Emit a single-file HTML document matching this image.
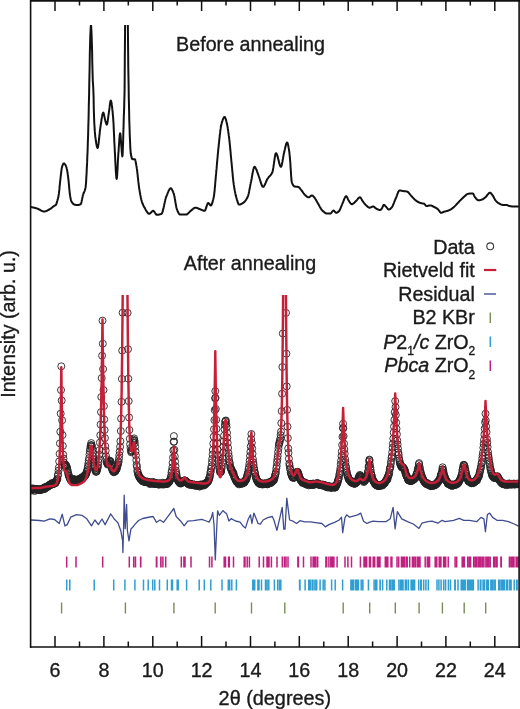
<!DOCTYPE html>
<html><head><meta charset="utf-8"><style>
html,body{margin:0;padding:0;background:#fff;}
svg{display:block;will-change:transform;}
text{font-family:"Liberation Sans",sans-serif;font-size:19.7px;fill:#1a1a1a;stroke:#1a1a1a;stroke-width:0.35px;}
</style></head><body>
<svg width="520" height="709" viewBox="0 0 520 709">
<defs>
<clipPath id="ct"><rect x="31" y="25" width="488" height="200"/></clipPath>
<clipPath id="cb"><rect x="31" y="295" width="488" height="220"/></clipPath>
</defs>
<path d="M30.6,207 L30.9,207 L31.1,207.1 L31.4,207.1 L31.6,207.2 L31.9,207.2 L32.1,207.3 L32.4,207.3 L32.6,207.4 L32.9,207.4 L33.1,207.5 L33.4,207.5 L33.6,207.6 L33.9,207.6 L34.1,207.7 L34.4,207.8 L34.6,207.8 L34.9,207.9 L35.1,208 L35.4,208 L35.6,208.1 L35.9,208.2 L36.1,208.2 L36.4,208.3 L36.6,208.4 L36.9,208.5 L37.1,208.5 L37.4,208.6 L37.6,208.7 L37.9,208.8 L38.1,208.9 L38.4,209 L38.6,209.2 L38.9,209.3 L39.1,209.4 L39.4,209.6 L39.6,209.7 L39.9,209.8 L40.1,210 L40.4,210.1 L40.6,210.3 L40.9,210.4 L41.1,210.5 L41.4,210.7 L41.6,210.8 L41.9,210.9 L42.1,211 L42.4,211.1 L42.6,211.2 L42.9,211.3 L43.1,211.4 L43.4,211.4 L43.6,211.5 L43.9,211.5 L44.1,211.5 L44.4,211.5 L44.6,211.5 L44.9,211.4 L45.1,211.4 L45.4,211.3 L45.6,211.3 L45.9,211.2 L46.1,211.1 L46.4,211 L46.6,210.9 L46.9,210.8 L47.1,210.7 L47.4,210.5 L47.6,210.4 L47.9,210.2 L48.1,210.1 L48.4,210 L48.6,209.8 L48.9,209.7 L49.1,209.5 L49.4,209.4 L49.6,209.2 L49.9,209.1 L50.1,208.9 L50.4,208.8 L50.6,208.6 L50.9,208.5 L51.1,208.3 L51.4,208.1 L51.6,207.9 L51.9,207.7 L52.1,207.5 L52.4,207.3 L52.6,207.1 L52.9,206.9 L53.1,206.7 L53.4,206.5 L53.6,206.3 L53.9,206.1 L54.1,205.9 L54.4,205.8 L54.6,205.7 L54.9,205.5 L55.1,205.4 L55.4,205.3 L55.6,205.1 L55.9,204.9 L56.1,204.6 L56.4,204 L56.6,203.3 L56.9,202.4 L57.1,201.5 L57.4,200.5 L57.6,199.6 L57.9,198.8 L58.1,197.8 L58.4,196.8 L58.6,195.4 L58.9,193.7 L59.1,191.6 L59.4,189.2 L59.6,186.7 L59.9,184.1 L60.1,181.6 L60.4,179.3 L60.6,177.2 L60.9,175 L61.1,172.9 L61.4,170.8 L61.6,169 L61.9,167.6 L62.1,166.7 L62.4,165.9 L62.6,165.2 L62.9,164.6 L63.1,164.1 L63.4,163.7 L63.6,163.5 L63.9,163.4 L64.1,163.5 L64.3,163.6 L64.6,163.8 L64.8,164.1 L65.1,164.4 L65.3,164.8 L65.6,165.2 L65.8,165.6 L66.1,166.3 L66.3,167 L66.6,167.9 L66.8,168.8 L67.1,169.9 L67.3,171.3 L67.6,173 L67.8,174.8 L68.1,176.7 L68.3,178.8 L68.6,180.9 L68.8,183.4 L69.1,186.2 L69.3,189 L69.6,191.7 L69.8,194 L70.1,195.6 L70.3,197 L70.6,198.3 L70.8,199.5 L71.1,200.4 L71.3,201.2 L71.6,201.7 L71.8,202.1 L72.1,202.5 L72.3,202.9 L72.6,203.2 L72.8,203.5 L73.1,203.8 L73.3,204 L73.6,204.2 L73.8,204.4 L74.1,204.5 L74.3,204.6 L74.6,204.7 L74.8,204.7 L75.1,204.8 L75.3,204.8 L75.6,204.8 L75.8,204.9 L76.1,204.9 L76.3,204.9 L76.6,204.9 L76.8,205 L77.1,205 L77.3,205 L77.6,205 L77.8,205 L78.1,205 L78.3,205 L78.6,205 L78.8,204.9 L79.1,204.8 L79.3,204.8 L79.6,204.7 L79.8,204.5 L80.1,204.4 L80.3,204.3 L80.6,204.1 L80.8,204 L81.1,203.5 L81.3,202.7 L81.6,201.7 L81.8,200.5 L82.1,199.2 L82.3,197.9 L82.6,196.7 L82.8,195.6 L83.1,194.7 L83.3,193.9 L83.6,193.3 L83.8,192.8 L84.1,192.2 L84.3,191.7 L84.6,191.1 L84.8,190.4 L85.1,189.6 L85.3,188.6 L85.6,187.4 L85.8,185.4 L86.1,182.1 L86.3,177.9 L86.6,173.1 L86.8,168.1 L87.1,162.9 L87.3,157.1 L87.6,150.7 L87.8,143.5 L88.1,135.7 L88.3,127.1 L88.6,117.1 L88.8,106.1 L89.1,94.6 L89.3,82.5 L89.6,68.4 L89.8,54.4 L90.1,43.2 L90.3,36 L90.6,29.8 L90.8,25.8 L91.1,25.4 L91.3,28.9 L91.6,34.8 L91.8,41.4 L92.1,50.9 L92.3,62.7 L92.6,73.7 L92.8,81.1 L93.1,85 L93.3,88.9 L93.6,97.1 L93.8,109 L94.1,118.2 L94.3,123.3 L94.6,127.7 L94.8,131.4 L95.1,134.4 L95.3,136.8 L95.6,138.7 L95.8,140.5 L96.1,142.2 L96.3,143.8 L96.6,145.1 L96.8,146.3 L97.1,147.1 L97.3,147.7 L97.6,147.9 L97.8,147.6 L98.1,146.7 L98.3,145.2 L98.6,143.4 L98.8,141.3 L99.1,139 L99.3,136.6 L99.6,134.1 L99.8,131.7 L100.1,129.6 L100.3,127.7 L100.6,126.1 L100.8,124.5 L101.1,122.8 L101.3,121.1 L101.6,119.5 L101.8,117.9 L102.1,116.4 L102.3,115.1 L102.6,114 L102.8,113.2 L103.1,112.7 L103.3,112.6 L103.6,113 L103.8,113.7 L104.1,114.7 L104.3,116 L104.6,117.3 L104.8,118.6 L105.1,119.9 L105.3,120.8 L105.6,121.7 L105.8,122.5 L106.1,123.3 L106.3,124 L106.6,124.5 L106.8,124.6 L107.1,124.2 L107.3,123.2 L107.6,121.8 L107.8,120.2 L108.1,118.3 L108.3,116.4 L108.6,114.6 L108.8,112.9 L109.1,111.3 L109.3,109.3 L109.6,107.2 L109.8,105.2 L110.1,103.3 L110.3,101.8 L110.6,100.9 L110.8,100.6 L111.1,101 L111.3,101.9 L111.6,103.2 L111.8,104.9 L112.1,106.9 L112.3,109.2 L112.6,111.7 L112.8,114.3 L113.1,117.1 L113.3,120.2 L113.6,124.7 L113.8,130.1 L114.1,135.9 L114.3,141.5 L114.6,146.5 L114.8,151.2 L115.1,156.3 L115.3,161.5 L115.6,166.4 L115.8,171 L116.1,174.7 L116.3,177.5 L116.6,178.9 L116.8,178.6 L117.1,176.4 L117.3,172.7 L117.6,168 L117.8,163 L118.1,158.2 L118.3,154.2 L118.6,150.8 L118.8,147 L119.1,143.3 L119.3,139.7 L119.6,136.7 L119.8,134.4 L120.1,133.2 L120.3,133.5 L120.6,135.6 L120.8,138.9 L121.1,142.6 L121.3,146 L121.6,148.9 L121.8,152.1 L122.1,154.9 L122.3,156.4 L122.6,155 L122.8,150.2 L123.1,142.7 L123.3,134 L123.6,124.9 L123.8,116.7 L124.1,109.8 L124.3,101.8 L124.6,90 L124.8,61.1 L125.1,25.7 L125.3,7.9 L125.6,5 L125.8,5 L126.1,5 L126.3,5 L126.6,5 L126.8,5 L127.1,5 L127.3,5 L127.6,7.7 L127.8,19.3 L128.1,49.1 L128.3,68.7 L128.6,84.4 L128.8,97.9 L129.1,110.2 L129.3,120.8 L129.6,129.5 L129.8,136.3 L130.1,142.5 L130.3,147.7 L130.6,151.6 L130.8,153.8 L131.1,155.2 L131.3,156.4 L131.6,157.4 L131.8,158.3 L132.1,158.8 L132.3,159.1 L132.6,159.2 L132.8,159.2 L133.1,159.2 L133.3,159.2 L133.6,159.2 L133.8,159.2 L134.1,159.2 L134.3,159.2 L134.6,159.2 L134.8,159.2 L135.1,159.5 L135.3,160.3 L135.6,161.3 L135.8,162.6 L136.1,164 L136.3,165.4 L136.6,166.8 L136.8,168.4 L137.1,170.2 L137.3,172.3 L137.6,174.5 L137.8,176.8 L138.1,179.1 L138.3,181.4 L138.6,183.6 L138.8,185.6 L139.1,187.5 L139.3,189.1 L139.6,190.6 L139.8,192.1 L140.1,193.5 L140.3,194.9 L140.6,196.2 L140.8,197.4 L141.1,198.6 L141.3,199.7 L141.6,200.6 L141.8,201.5 L142.1,202.3 L142.3,203 L142.6,203.7 L142.8,204.3 L143.1,204.8 L143.3,205.4 L143.6,205.9 L143.8,206.4 L144.1,206.8 L144.3,207.3 L144.6,207.7 L144.8,208.1 L145.1,208.6 L145.3,209 L145.6,209.5 L145.8,209.9 L146.1,210.4 L146.3,210.8 L146.6,211.2 L146.8,211.6 L147.1,212 L147.3,212.4 L147.6,212.7 L147.8,213 L148.1,213.3 L148.3,213.5 L148.6,213.6 L148.8,213.7 L149.1,213.8 L149.3,213.8 L149.6,213.7 L149.8,213.6 L150.1,213.4 L150.3,213.2 L150.6,213 L150.8,212.7 L151.1,212.4 L151.3,212.1 L151.6,211.9 L151.8,211.6 L152.1,211.4 L152.3,211.1 L152.6,211 L152.8,210.9 L153.1,210.8 L153.3,210.8 L153.6,210.9 L153.8,211.1 L154.1,211.4 L154.3,211.7 L154.6,212.1 L154.8,212.5 L155.1,212.9 L155.3,213.3 L155.6,213.7 L155.8,214 L156.1,214.3 L156.3,214.6 L156.6,214.7 L156.8,214.8 L157.1,214.8 L157.3,214.8 L157.6,214.8 L157.8,214.8 L158.1,214.7 L158.3,214.7 L158.6,214.7 L158.8,214.6 L159.1,214.6 L159.3,214.5 L159.6,214.4 L159.8,214.4 L160.1,214.3 L160.3,214.2 L160.6,214.1 L160.8,214.1 L161.1,214 L161.3,213.9 L161.6,213.7 L161.8,213.5 L162.1,213 L162.3,212.4 L162.6,211.7 L162.8,210.8 L163.1,209.9 L163.3,208.8 L163.6,207.7 L163.8,206.6 L164.1,205.4 L164.3,204.2 L164.6,203 L164.8,201.9 L165.1,200.7 L165.3,199.7 L165.6,198.8 L165.8,197.9 L166.1,197.2 L166.3,196.5 L166.6,195.9 L166.8,195.3 L167.1,194.6 L167.3,194 L167.6,193.3 L167.8,192.7 L168.1,192.1 L168.3,191.5 L168.6,191 L168.8,190.5 L169.1,190 L169.3,189.6 L169.6,189.2 L169.8,188.9 L170.1,188.6 L170.3,188.4 L170.6,188.3 L170.8,188.3 L171.1,188.4 L171.3,188.6 L171.6,188.8 L171.8,189.2 L172.1,189.7 L172.3,190.2 L172.6,190.7 L172.8,191.3 L173.1,191.9 L173.3,192.6 L173.6,193.3 L173.8,193.9 L174.1,194.8 L174.3,195.9 L174.6,197.1 L174.8,198.5 L175.1,200 L175.3,201.5 L175.6,203.1 L175.8,204.6 L176.1,205.9 L176.3,207.2 L176.6,208.2 L176.8,209.1 L177.1,209.7 L177.3,210.3 L177.6,211 L177.8,211.6 L178.1,212.1 L178.3,212.6 L178.6,213.1 L178.8,213.5 L179.1,213.9 L179.3,214.2 L179.6,214.4 L179.8,214.5 L180.1,214.5 L180.3,214.5 L180.6,214.5 L180.8,214.5 L181.1,214.5 L181.3,214.5 L181.6,214.5 L181.8,214.5 L182.1,214.5 L182.3,214.5 L182.6,214.5 L182.8,214.5 L183.1,214.5 L183.3,214.5 L183.6,214.5 L183.8,214.5 L184.1,214.5 L184.3,214.5 L184.6,214.5 L184.8,214.5 L185.1,214.5 L185.3,214.5 L185.6,214.5 L185.8,214.5 L186.1,214.5 L186.3,214.5 L186.6,214.4 L186.8,214.4 L187.1,214.2 L187.3,214.1 L187.6,213.9 L187.8,213.7 L188.1,213.5 L188.3,213.2 L188.6,213 L188.8,212.7 L189.1,212.4 L189.3,212.2 L189.6,211.9 L189.8,211.6 L190.1,211.4 L190.3,211.2 L190.6,211 L190.8,210.8 L191.1,210.6 L191.3,210.4 L191.6,210.2 L191.8,209.9 L192.1,209.7 L192.3,209.5 L192.6,209.3 L192.8,209 L193.1,208.8 L193.3,208.6 L193.6,208.4 L193.8,208.3 L194.1,208.1 L194.3,208 L194.6,207.9 L194.8,207.8 L195.1,207.7 L195.3,207.7 L195.6,207.7 L195.8,207.7 L196.1,207.8 L196.3,207.8 L196.6,207.9 L196.8,207.9 L197.1,208 L197.3,208.1 L197.6,208.2 L197.8,208.3 L198.1,208.4 L198.3,208.5 L198.6,208.6 L198.8,208.7 L199.1,208.9 L199.3,209 L199.6,209.1 L199.8,209.1 L200.1,209.2 L200.3,209.3 L200.6,209.4 L200.8,209.5 L201.1,209.6 L201.3,209.8 L201.6,209.9 L201.8,210 L202.1,210.1 L202.3,210.2 L202.6,210.3 L202.8,210.4 L203.1,210.5 L203.3,210.6 L203.6,210.7 L203.8,210.7 L204.1,210.8 L204.3,210.8 L204.6,210.8 L204.8,210.7 L205.1,210.4 L205.3,210 L205.6,209.4 L205.8,208.7 L206.1,208 L206.3,207.2 L206.6,206.4 L206.8,205.7 L207.1,204.9 L207.3,204.3 L207.6,203.7 L207.8,203.3 L208.1,203.1 L208.3,203 L208.6,203.1 L208.8,203.3 L209.1,203.6 L209.3,204 L209.6,204.3 L209.8,204.7 L210.1,205 L210.3,205.3 L210.6,205.5 L210.8,205.5 L211.1,205.4 L211.3,205.1 L211.6,204.7 L211.8,204.2 L212.1,203.5 L212.3,202.8 L212.6,201.9 L212.8,201 L213.1,200 L213.3,198.9 L213.6,197.8 L213.8,196.7 L214.1,195.1 L214.3,193.1 L214.6,190.8 L214.8,188.1 L215.1,185.3 L215.3,182.3 L215.6,179.4 L215.8,176.6 L216.1,173.9 L216.3,171.2 L216.6,168.4 L216.8,165.6 L217.1,162.7 L217.3,159.8 L217.6,157 L217.8,154.3 L218.1,151.6 L218.3,149.1 L218.6,146.8 L218.8,144.4 L219.1,142 L219.3,139.7 L219.6,137.3 L219.8,135 L220.1,132.9 L220.3,130.8 L220.6,128.9 L220.8,127.3 L221.1,125.8 L221.3,124.6 L221.6,123.6 L221.8,122.8 L222.1,121.9 L222.3,121.1 L222.6,120.3 L222.8,119.6 L223.1,118.9 L223.3,118.4 L223.6,117.9 L223.8,117.5 L224.1,117.2 L224.3,117 L224.6,116.9 L224.8,117 L225.1,117.4 L225.3,117.9 L225.6,118.6 L225.8,119.4 L226.1,120.3 L226.3,121.3 L226.6,122.3 L226.8,123.4 L227.1,124.4 L227.3,125.6 L227.6,127 L227.8,128.5 L228.1,130.2 L228.3,131.9 L228.6,133.8 L228.8,135.7 L229.1,137.7 L229.3,139.7 L229.6,142 L229.8,144.4 L230.1,147 L230.3,149.7 L230.6,152.4 L230.8,155.1 L231.1,157.8 L231.3,160.5 L231.6,163 L231.8,165.6 L232.1,168.3 L232.3,171 L232.6,173.7 L232.8,176.3 L233.1,178.8 L233.3,181.1 L233.6,183.2 L233.8,184.9 L234.1,186.5 L234.3,188.1 L234.6,189.5 L234.8,190.9 L235.1,192.2 L235.3,193.4 L235.6,194.5 L235.8,195.6 L236.1,196.6 L236.3,197.5 L236.6,198.3 L236.8,199.2 L237.1,200.1 L237.3,200.9 L237.6,201.8 L237.8,202.5 L238.1,203.2 L238.3,203.8 L238.6,204.2 L238.8,204.5 L239.1,204.6 L239.3,204.6 L239.6,204.6 L239.8,204.5 L240.1,204.5 L240.3,204.4 L240.6,204.3 L240.8,204.2 L241.1,204.1 L241.3,204 L241.6,203.8 L241.8,203.7 L242.1,203.5 L242.3,203.4 L242.6,203.2 L242.8,203.1 L243.1,202.9 L243.3,202.8 L243.6,202.6 L243.8,202.4 L244.1,202.2 L244.3,201.9 L244.6,201.7 L244.8,201.4 L245.1,201.1 L245.3,200.8 L245.6,200.5 L245.8,200.1 L246.1,199.8 L246.3,199.4 L246.6,199 L246.8,198.5 L247.1,198.1 L247.3,197.6 L247.6,197.1 L247.8,196.6 L248.1,195.8 L248.3,195 L248.6,194 L248.8,192.9 L249.1,191.7 L249.3,190.4 L249.6,189.1 L249.8,187.8 L250.1,186.5 L250.3,185.1 L250.6,183.9 L250.8,182.7 L251.1,181.5 L251.3,180.3 L251.6,179 L251.8,177.6 L252.1,176.1 L252.3,174.7 L252.6,173.3 L252.8,171.9 L253.1,170.7 L253.3,169.5 L253.6,168.5 L253.8,167.7 L254.1,167.2 L254.3,166.9 L254.6,166.8 L254.8,166.9 L255.1,167.1 L255.3,167.5 L255.6,167.9 L255.8,168.4 L256.1,168.9 L256.4,169.5 L256.6,170.2 L256.9,170.9 L257.1,171.6 L257.4,172.3 L257.6,173 L257.9,173.7 L258.1,174.4 L258.4,175 L258.6,175.6 L258.9,176.3 L259.1,177 L259.4,177.8 L259.6,178.6 L259.9,179.4 L260.1,180.2 L260.4,181.1 L260.6,181.9 L260.9,182.7 L261.1,183.5 L261.4,184.2 L261.6,184.9 L261.9,185.5 L262.1,185.9 L262.4,186.3 L262.6,186.6 L262.9,186.8 L263.1,186.8 L263.4,186.7 L263.6,186.5 L263.9,186.3 L264.1,186 L264.4,185.6 L264.6,185.1 L264.9,184.6 L265.1,184.1 L265.4,183.5 L265.6,183 L265.9,182.4 L266.1,181.8 L266.4,181.2 L266.6,180.6 L266.9,180.1 L267.1,179.6 L267.4,179.1 L267.6,178.7 L267.9,178.3 L268.1,177.9 L268.4,177.6 L268.6,177.3 L268.9,177 L269.1,176.7 L269.4,176.5 L269.6,176.2 L269.9,175.9 L270.1,175.7 L270.4,175.4 L270.6,175.1 L270.9,174.8 L271.1,174.4 L271.4,174.1 L271.6,173.6 L271.9,173.2 L272.1,172.7 L272.4,172.2 L272.6,171.4 L272.9,170.3 L273.1,168.9 L273.4,167.4 L273.6,165.7 L273.9,163.9 L274.1,162.1 L274.4,160.3 L274.6,158.6 L274.9,157.1 L275.1,155.7 L275.4,154.6 L275.6,153.7 L275.9,153.3 L276.1,153.2 L276.4,153.4 L276.6,153.8 L276.9,154.3 L277.1,154.9 L277.4,155.7 L277.6,156.6 L277.9,157.6 L278.1,158.6 L278.4,159.6 L278.6,160.6 L278.9,161.7 L279.1,162.6 L279.4,163.6 L279.6,164.4 L279.9,165.2 L280.1,165.8 L280.4,166.3 L280.6,166.7 L280.9,166.8 L281.1,166.7 L281.4,166.2 L281.6,165.5 L281.9,164.5 L282.1,163.3 L282.4,162 L282.6,160.5 L282.9,159 L283.1,157.6 L283.4,156.1 L283.6,154.8 L283.9,153.6 L284.1,152.6 L284.4,151.6 L284.6,150.5 L284.9,149.3 L285.1,148.2 L285.4,147.1 L285.6,146.1 L285.9,145.1 L286.1,144.2 L286.4,143.5 L286.6,143 L286.9,142.6 L287.1,142.5 L287.4,142.7 L287.6,143.2 L287.9,144.1 L288.1,145.1 L288.4,146.3 L288.6,147.7 L288.9,149.1 L289.1,150.6 L289.4,152.6 L289.6,155 L289.9,157.6 L290.1,160.3 L290.4,163.7 L290.6,167.6 L290.9,171.7 L291.1,175.5 L291.4,178.9 L291.6,181.3 L291.9,182.4 L292.1,183.1 L292.4,183.7 L292.6,184.3 L292.9,184.7 L293.1,185.2 L293.4,185.5 L293.6,185.8 L293.9,186.1 L294.1,186.3 L294.4,186.4 L294.6,186.5 L294.9,186.5 L295.1,186.6 L295.4,186.6 L295.6,186.6 L295.9,186.7 L296.1,186.7 L296.4,186.7 L296.6,186.7 L296.9,186.7 L297.1,186.8 L297.4,186.8 L297.6,186.8 L297.9,186.9 L298.1,186.9 L298.4,187 L298.6,187.1 L298.9,187.3 L299.1,187.5 L299.4,187.7 L299.6,188 L299.9,188.3 L300.1,188.6 L300.4,188.9 L300.6,189.3 L300.9,189.6 L301.1,189.9 L301.4,190.2 L301.6,190.5 L301.9,190.8 L302.1,191.2 L302.4,191.5 L302.6,191.9 L302.9,192.2 L303.1,192.6 L303.4,193 L303.6,193.3 L303.9,193.7 L304.1,194 L304.4,194.3 L304.6,194.6 L304.9,194.9 L305.1,195.1 L305.4,195.3 L305.6,195.5 L305.9,195.8 L306.1,196 L306.4,196.2 L306.6,196.4 L306.9,196.6 L307.1,196.8 L307.4,196.9 L307.6,197.1 L307.9,197.2 L308.1,197.3 L308.4,197.3 L308.6,197.3 L308.9,197.2 L309.1,197.2 L309.4,197 L309.6,196.9 L309.9,196.7 L310.1,196.5 L310.4,196.3 L310.6,196.1 L310.9,195.9 L311.1,195.8 L311.4,195.6 L311.6,195.5 L311.9,195.5 L312.1,195.5 L312.4,195.6 L312.6,195.7 L312.9,195.9 L313.1,196.1 L313.4,196.4 L313.6,196.7 L313.9,196.9 L314.1,197.2 L314.4,197.5 L314.6,197.8 L314.9,198.1 L315.1,198.5 L315.4,198.9 L315.6,199.3 L315.9,199.7 L316.1,200.2 L316.4,200.6 L316.6,201.1 L316.9,201.5 L317.1,202 L317.4,202.4 L317.6,202.8 L317.9,203.2 L318.1,203.7 L318.4,204.1 L318.6,204.6 L318.9,205 L319.1,205.5 L319.4,206 L319.6,206.4 L319.9,206.9 L320.1,207.3 L320.4,207.8 L320.6,208.2 L320.9,208.6 L321.1,209 L321.4,209.4 L321.6,209.7 L321.9,210 L322.1,210.3 L322.4,210.5 L322.6,210.8 L322.9,211 L323.1,211.2 L323.4,211.5 L323.6,211.7 L323.9,211.9 L324.1,212.1 L324.4,212.3 L324.6,212.5 L324.9,212.7 L325.1,212.9 L325.4,213 L325.6,213.2 L325.9,213.3 L326.1,213.4 L326.4,213.4 L326.6,213.5 L326.9,213.5 L327.1,213.5 L327.4,213.5 L327.6,213.5 L327.9,213.5 L328.1,213.5 L328.4,213.5 L328.6,213.5 L328.9,213.5 L329.1,213.5 L329.4,213.5 L329.6,213.5 L329.9,213.5 L330.1,213.5 L330.4,213.5 L330.6,213.5 L330.9,213.3 L331.1,213.1 L331.4,212.8 L331.6,212.4 L331.9,212.1 L332.1,211.7 L332.4,211.3 L332.6,211 L332.9,210.8 L333.1,210.6 L333.4,210.5 L333.6,210.5 L333.9,210.7 L334.1,210.9 L334.4,211.1 L334.6,211.4 L334.9,211.7 L335.1,212 L335.4,212.3 L335.6,212.5 L335.9,212.7 L336.1,212.8 L336.4,212.8 L336.6,212.8 L336.9,212.7 L337.1,212.6 L337.4,212.4 L337.6,212.3 L337.9,212.1 L338.1,211.9 L338.4,211.7 L338.6,211.5 L338.9,211.2 L339.1,211 L339.4,210.7 L339.6,210.2 L339.9,209.8 L340.1,209.2 L340.4,208.7 L340.6,208.1 L340.9,207.4 L341.1,206.8 L341.4,206.1 L341.6,205.5 L341.9,204.8 L342.1,204.2 L342.4,203.6 L342.6,203.1 L342.9,202.6 L343.1,202 L343.4,201.3 L343.6,200.7 L343.9,200 L344.1,199.4 L344.4,198.7 L344.6,198.2 L344.9,197.6 L345.1,197.1 L345.4,196.8 L345.6,196.5 L345.9,196.3 L346.1,196.2 L346.4,196.3 L346.6,196.5 L346.9,196.9 L347.1,197.3 L347.4,197.8 L347.6,198.4 L347.9,198.9 L348.1,199.5 L348.4,200 L348.6,200.5 L348.9,200.9 L349.1,201.2 L349.4,201.6 L349.6,202 L349.9,202.4 L350.1,202.7 L350.4,203.1 L350.6,203.4 L350.9,203.7 L351.1,203.9 L351.4,204.1 L351.6,204.2 L351.9,204.2 L352.1,204.2 L352.4,204.1 L352.6,204 L352.9,203.9 L353.1,203.7 L353.4,203.5 L353.6,203.3 L353.9,203.1 L354.1,202.8 L354.4,202.6 L354.6,202.3 L354.9,202.1 L355.1,201.8 L355.4,201.6 L355.6,201.4 L355.9,201.2 L356.1,200.9 L356.4,200.7 L356.6,200.4 L356.9,200.1 L357.1,199.8 L357.4,199.4 L357.6,199.1 L357.9,198.8 L358.1,198.5 L358.4,198.2 L358.6,198 L358.9,197.8 L359.1,197.6 L359.4,197.4 L359.6,197.3 L359.9,197.3 L360.1,197.3 L360.4,197.5 L360.6,197.7 L360.9,198.1 L361.1,198.5 L361.4,198.9 L361.6,199.3 L361.9,199.8 L362.1,200.3 L362.4,200.7 L362.6,201.1 L362.9,201.4 L363.1,201.7 L363.4,202.1 L363.6,202.4 L363.9,202.7 L364.1,203 L364.4,203.4 L364.6,203.7 L364.9,204 L365.1,204.3 L365.4,204.6 L365.6,204.8 L365.9,205.1 L366.1,205.3 L366.4,205.5 L366.6,205.8 L366.9,206 L367.1,206.2 L367.4,206.4 L367.6,206.7 L367.9,206.9 L368.1,207.1 L368.4,207.2 L368.6,207.4 L368.9,207.5 L369.1,207.6 L369.4,207.7 L369.6,207.7 L369.9,207.7 L370.1,207.6 L370.4,207.6 L370.6,207.5 L370.9,207.4 L371.1,207.2 L371.4,207.1 L371.6,207 L371.9,206.8 L372.1,206.7 L372.4,206.6 L372.6,206.6 L372.9,206.5 L373.1,206.5 L373.4,206.5 L373.6,206.6 L373.9,206.7 L374.1,206.9 L374.4,207.1 L374.6,207.3 L374.9,207.5 L375.1,207.7 L375.4,208 L375.6,208.2 L375.9,208.4 L376.1,208.6 L376.4,208.7 L376.6,208.8 L376.9,209 L377.1,209.1 L377.4,209.2 L377.6,209.3 L377.9,209.4 L378.1,209.5 L378.4,209.6 L378.6,209.7 L378.9,209.8 L379.1,209.9 L379.4,209.9 L379.6,210 L379.9,210 L380.1,210 L380.4,209.9 L380.6,209.8 L380.9,209.6 L381.1,209.3 L381.4,209.1 L381.6,208.8 L381.9,208.5 L382.1,208 L382.4,207.5 L382.6,206.9 L382.9,206.3 L383.1,205.8 L383.4,205.4 L383.6,205 L383.9,204.9 L384.1,204.9 L384.4,205.1 L384.6,205.2 L384.9,205.5 L385.1,205.8 L385.4,206 L385.6,206.3 L385.9,206.5 L386.1,206.8 L386.4,207.1 L386.6,207.4 L386.9,207.7 L387.1,208.1 L387.4,208.4 L387.6,208.7 L387.9,209 L388.1,209.2 L388.4,209.4 L388.6,209.5 L388.9,209.5 L389.1,209.5 L389.4,209.4 L389.6,209.3 L389.9,209.1 L390.1,209 L390.4,208.8 L390.6,208.6 L390.9,208.3 L391.1,208.1 L391.4,207.8 L391.6,207.6 L391.9,207.3 L392.1,206.9 L392.4,206.5 L392.6,206 L392.9,205.5 L393.1,204.9 L393.4,204.3 L393.6,203.7 L393.9,203.1 L394.1,202.4 L394.4,201.8 L394.6,201.1 L394.9,200.5 L395.1,199.9 L395.4,199.3 L395.6,198.7 L395.9,198.2 L396.1,197.6 L396.4,196.9 L396.6,196.3 L396.9,195.6 L397.1,194.9 L397.4,194.2 L397.6,193.5 L397.9,192.9 L398.1,192.3 L398.4,191.8 L398.6,191.3 L398.9,190.9 L399.1,190.6 L399.4,190.5 L399.6,190.4 L399.9,190.4 L400.1,190.4 L400.4,190.5 L400.6,190.5 L400.9,190.6 L401.1,190.6 L401.4,190.7 L401.6,190.8 L401.9,190.8 L402.1,190.9 L402.4,191 L402.6,191 L402.9,191.1 L403.1,191.1 L403.4,191.1 L403.6,191.2 L403.9,191.2 L404.1,191.2 L404.4,191.2 L404.6,191.2 L404.9,191.3 L405.1,191.3 L405.4,191.3 L405.6,191.3 L405.9,191.4 L406.1,191.4 L406.4,191.4 L406.6,191.4 L406.9,191.5 L407.1,191.6 L407.4,191.7 L407.6,191.8 L407.9,192 L408.1,192.2 L408.4,192.4 L408.6,192.7 L408.9,193 L409.1,193.3 L409.4,193.6 L409.6,193.9 L409.9,194.2 L410.1,194.5 L410.4,194.9 L410.6,195.2 L410.9,195.5 L411.1,195.8 L411.4,196 L411.6,196.3 L411.9,196.6 L412.1,196.8 L412.4,197.1 L412.6,197.4 L412.9,197.6 L413.1,197.9 L413.4,198.2 L413.6,198.4 L413.9,198.7 L414.1,199 L414.4,199.2 L414.6,199.5 L414.9,199.7 L415.1,199.9 L415.4,200.2 L415.6,200.4 L415.9,200.6 L416.1,200.7 L416.4,200.9 L416.6,201.1 L416.9,201.2 L417.1,201.4 L417.4,201.5 L417.6,201.7 L417.9,201.8 L418.1,202 L418.4,202.1 L418.6,202.2 L418.9,202.3 L419.1,202.5 L419.4,202.6 L419.6,202.7 L419.9,202.8 L420.1,202.9 L420.4,203 L420.6,203 L420.9,203.1 L421.1,203.2 L421.4,203.2 L421.6,203.3 L421.9,203.3 L422.1,203.4 L422.4,203.4 L422.6,203.4 L422.9,203.5 L423.1,203.5 L423.4,203.6 L423.6,203.6 L423.9,203.7 L424.1,203.8 L424.4,203.9 L424.6,204.1 L424.9,204.4 L425.1,204.7 L425.4,205.1 L425.6,205.4 L425.9,205.7 L426.1,205.9 L426.4,206.1 L426.6,206.1 L426.9,206.1 L427.1,206 L427.4,206 L427.6,205.9 L427.9,205.9 L428.1,205.8 L428.4,205.7 L428.6,205.6 L428.9,205.6 L429.1,205.5 L429.4,205.5 L429.6,205.4 L429.9,205.4 L430.1,205.4 L430.4,205.4 L430.6,205.5 L430.9,205.5 L431.1,205.6 L431.4,205.6 L431.6,205.7 L431.9,205.8 L432.1,205.9 L432.4,206 L432.6,206.2 L432.9,206.3 L433.1,206.4 L433.4,206.5 L433.6,206.7 L433.9,206.8 L434.1,206.9 L434.4,207.1 L434.6,207.2 L434.9,207.3 L435.1,207.5 L435.4,207.6 L435.6,207.7 L435.9,207.9 L436.1,208 L436.4,208.2 L436.6,208.4 L436.9,208.5 L437.1,208.7 L437.4,208.9 L437.6,209.1 L437.9,209.3 L438.1,209.5 L438.4,209.7 L438.6,210 L438.9,210.4 L439.1,210.7 L439.4,211.1 L439.6,211.5 L439.9,211.8 L440.1,212.1 L440.4,212.4 L440.6,212.6 L440.9,212.8 L441.1,212.8 L441.4,212.8 L441.6,212.7 L441.9,212.7 L442.1,212.6 L442.4,212.5 L442.6,212.3 L442.9,212.2 L443.1,212.1 L443.4,212 L443.6,211.9 L443.9,211.8 L444.1,211.7 L444.4,211.6 L444.6,211.6 L444.9,211.5 L445.1,211.4 L445.4,211.4 L445.6,211.3 L445.9,211.3 L446.1,211.2 L446.4,211.1 L446.6,211.1 L446.9,211 L447.1,210.9 L447.4,210.9 L447.6,210.8 L447.9,210.7 L448.1,210.6 L448.4,210.6 L448.6,210.5 L448.9,210.4 L449.1,210.2 L449.4,210.1 L449.6,210 L449.9,209.9 L450.1,209.7 L450.4,209.6 L450.6,209.4 L450.9,209.3 L451.1,209.1 L451.4,209 L451.6,208.8 L451.9,208.6 L452.1,208.4 L452.4,208.3 L452.6,208.1 L452.9,207.9 L453.1,207.7 L453.4,207.5 L453.6,207.3 L453.9,207.1 L454.1,206.9 L454.4,206.6 L454.6,206.4 L454.9,206.1 L455.1,205.9 L455.4,205.6 L455.6,205.4 L455.9,205.1 L456.1,204.8 L456.4,204.5 L456.6,204.3 L456.9,204 L457.1,203.7 L457.4,203.4 L457.6,203.2 L457.9,202.9 L458.1,202.6 L458.4,202.4 L458.6,202.1 L458.9,201.9 L459.1,201.6 L459.4,201.3 L459.6,201.1 L459.9,200.8 L460.1,200.6 L460.4,200.3 L460.6,200.1 L460.9,199.8 L461.1,199.6 L461.4,199.3 L461.6,199.1 L461.9,198.8 L462.1,198.6 L462.4,198.3 L462.6,198.1 L462.9,197.9 L463.1,197.6 L463.4,197.4 L463.6,197.2 L463.9,197 L464.1,196.8 L464.4,196.5 L464.6,196.3 L464.9,196 L465.1,195.8 L465.4,195.6 L465.6,195.3 L465.9,195.1 L466.1,194.9 L466.4,194.7 L466.6,194.5 L466.9,194.3 L467.1,194.2 L467.4,194 L467.6,193.9 L467.9,193.9 L468.1,193.8 L468.4,193.8 L468.6,193.7 L468.9,193.7 L469.1,193.7 L469.4,193.6 L469.6,193.6 L469.9,193.6 L470.1,193.5 L470.4,193.5 L470.6,193.5 L470.9,193.5 L471.1,193.5 L471.4,193.4 L471.6,193.4 L471.9,193.4 L472.1,193.4 L472.4,193.4 L472.6,193.4 L472.9,193.4 L473.1,193.6 L473.4,194 L473.6,194.5 L473.9,195 L474.1,195.6 L474.4,196.2 L474.6,196.7 L474.9,197.1 L475.1,197.4 L475.4,197.7 L475.6,198 L475.9,198.3 L476.1,198.6 L476.4,198.9 L476.6,199.2 L476.9,199.4 L477.1,199.6 L477.4,199.8 L477.6,200 L477.9,200.1 L478.1,200.2 L478.4,200.3 L478.6,200.3 L478.9,200.3 L479.1,200.3 L479.4,200.2 L479.6,200.2 L479.9,200.2 L480.1,200.1 L480.4,200 L480.6,200 L480.9,199.9 L481.1,199.8 L481.4,199.8 L481.6,199.7 L481.9,199.6 L482.1,199.5 L482.4,199.4 L482.6,199.3 L482.9,199.2 L483.1,199 L483.4,198.9 L483.6,198.7 L483.9,198.5 L484.1,198.3 L484.4,198.1 L484.6,197.9 L484.9,197.7 L485.1,197.5 L485.4,197.3 L485.6,197.1 L485.9,196.9 L486.1,196.6 L486.4,196.3 L486.6,196 L486.9,195.7 L487.1,195.3 L487.4,195 L487.6,194.7 L487.9,194.4 L488.1,194 L488.4,193.8 L488.6,193.5 L488.9,193.2 L489.1,193 L489.4,192.9 L489.6,192.8 L489.9,192.7 L490.1,192.7 L490.4,192.8 L490.6,192.9 L490.9,193.2 L491.1,193.4 L491.4,193.7 L491.6,194.1 L491.9,194.4 L492.1,194.7 L492.4,195.1 L492.6,195.4 L492.9,195.8 L493.1,196.2 L493.4,196.6 L493.6,197.1 L493.9,197.6 L494.1,198.1 L494.4,198.5 L494.6,199 L494.9,199.4 L495.1,199.9 L495.4,200.2 L495.6,200.6 L495.9,200.9 L496.1,201.1 L496.4,201.4 L496.6,201.6 L496.9,201.8 L497.1,202.1 L497.4,202.3 L497.6,202.5 L497.9,202.6 L498.1,202.8 L498.4,203 L498.6,203.2 L498.9,203.3 L499.1,203.4 L499.4,203.6 L499.6,203.7 L499.9,203.9 L500.1,204 L500.4,204.1 L500.6,204.3 L500.9,204.4 L501.1,204.5 L501.4,204.6 L501.6,204.7 L501.9,204.8 L502.1,204.8 L502.4,204.9 L502.6,204.9 L502.9,204.9 L503.1,204.9 L503.4,204.9 L503.6,204.9 L503.9,204.9 L504.1,204.9 L504.4,204.9 L504.6,204.9 L504.9,204.9 L505.1,204.9 L505.4,204.9 L505.6,204.9 L505.9,204.9 L506.1,204.9 L506.4,204.9 L506.6,204.9 L506.9,205 L507.1,205.1 L507.4,205.2 L507.6,205.3 L507.9,205.4 L508.1,205.5 L508.4,205.7 L508.6,205.8 L508.9,205.9 L509.1,206 L509.4,206.1 L509.6,206.1 L509.9,206.1 L510.1,206.2 L510.4,206.2 L510.6,206.2 L510.9,206.3 L511.1,206.3 L511.4,206.3 L511.6,206.4 L511.9,206.4 L512.1,206.4 L512.4,206.4 L512.6,206.4 L512.9,206.5 L513.1,206.5 L513.4,206.5 L513.6,206.5 L513.9,206.5 L514.1,206.5 L514.4,206.5 L514.6,206.5 L514.9,206.5 L515.1,206.5 L515.4,206.5 L515.6,206.5 L515.9,206.5 L516.1,206.5 L516.4,206.5 L516.6,206.5 L516.9,206.5 L517.1,206.5 L517.4,206.5 L517.6,206.5 L517.9,206.5 L518.1,206.5 L518.4,206.5 L518.6,206.5 L518.9,206.5" fill="none" stroke="#111" stroke-width="2" clip-path="url(#ct)" stroke-linejoin="round"/>
<g clip-path="url(#cb)">
<g fill="none" stroke="#222" stroke-width="0.9"><circle cx="31.5" cy="490.4" r="3.5"/><circle cx="31.9" cy="488.3" r="3.5"/><circle cx="32.2" cy="489.7" r="3.5"/><circle cx="32.6" cy="489.2" r="3.5"/><circle cx="32.9" cy="489.3" r="3.5"/><circle cx="33.3" cy="489.4" r="3.5"/><circle cx="33.7" cy="488.6" r="3.5"/><circle cx="34" cy="489.4" r="3.5"/><circle cx="34.4" cy="489.1" r="3.5"/><circle cx="34.7" cy="491" r="3.5"/><circle cx="35.1" cy="489.6" r="3.5"/><circle cx="35.5" cy="489.3" r="3.5"/><circle cx="35.8" cy="489.4" r="3.5"/><circle cx="36.2" cy="489.2" r="3.5"/><circle cx="36.5" cy="489" r="3.5"/><circle cx="36.9" cy="489.3" r="3.5"/><circle cx="37.3" cy="489.7" r="3.5"/><circle cx="37.6" cy="489.4" r="3.5"/><circle cx="38" cy="489.9" r="3.5"/><circle cx="38.3" cy="489.4" r="3.5"/><circle cx="38.7" cy="489.5" r="3.5"/><circle cx="39.1" cy="490.2" r="3.5"/><circle cx="39.4" cy="489.7" r="3.5"/><circle cx="39.8" cy="489.3" r="3.5"/><circle cx="40.1" cy="489.4" r="3.5"/><circle cx="40.5" cy="489.6" r="3.5"/><circle cx="40.9" cy="490.2" r="3.5"/><circle cx="41.2" cy="489.1" r="3.5"/><circle cx="41.6" cy="489" r="3.5"/><circle cx="41.9" cy="489.5" r="3.5"/><circle cx="42.3" cy="488.6" r="3.5"/><circle cx="42.7" cy="488.8" r="3.5"/><circle cx="43" cy="489.2" r="3.5"/><circle cx="43.4" cy="489" r="3.5"/><circle cx="43.7" cy="488.7" r="3.5"/><circle cx="44.1" cy="488.9" r="3.5"/><circle cx="44.5" cy="487.3" r="3.5"/><circle cx="44.8" cy="488.9" r="3.5"/><circle cx="45.2" cy="487.8" r="3.5"/><circle cx="45.5" cy="487.2" r="3.5"/><circle cx="45.9" cy="487.8" r="3.5"/><circle cx="46.3" cy="487.7" r="3.5"/><circle cx="46.6" cy="486.9" r="3.5"/><circle cx="47" cy="486.3" r="3.5"/><circle cx="47.3" cy="486.6" r="3.5"/><circle cx="47.7" cy="486.3" r="3.5"/><circle cx="48.1" cy="486.7" r="3.5"/><circle cx="48.4" cy="486.1" r="3.5"/><circle cx="48.8" cy="485.6" r="3.5"/><circle cx="49.1" cy="485.8" r="3.5"/><circle cx="49.5" cy="485" r="3.5"/><circle cx="49.9" cy="484.4" r="3.5"/><circle cx="50.2" cy="484.9" r="3.5"/><circle cx="50.6" cy="484.8" r="3.5"/><circle cx="50.9" cy="484.4" r="3.5"/><circle cx="51.3" cy="484" r="3.5"/><circle cx="51.7" cy="484.4" r="3.5"/><circle cx="52" cy="483" r="3.5"/><circle cx="52.4" cy="484.4" r="3.5"/><circle cx="52.7" cy="484.2" r="3.5"/><circle cx="53.1" cy="483.1" r="3.5"/><circle cx="53.5" cy="483.8" r="3.5"/><circle cx="53.8" cy="483.2" r="3.5"/><circle cx="54.2" cy="483.8" r="3.5"/><circle cx="54.5" cy="482.4" r="3.5"/><circle cx="54.9" cy="482.6" r="3.5"/><circle cx="55.3" cy="483.1" r="3.5"/><circle cx="55.6" cy="482.9" r="3.5"/><circle cx="56" cy="481" r="3.5"/><circle cx="56.3" cy="481.1" r="3.5"/><circle cx="56.7" cy="480.7" r="3.5"/><circle cx="57.1" cy="479.3" r="3.5"/><circle cx="57.4" cy="478.9" r="3.5"/><circle cx="57.8" cy="475.9" r="3.5"/><circle cx="58.1" cy="474.3" r="3.5"/><circle cx="58.5" cy="470.6" r="3.5"/><circle cx="58.9" cy="467.5" r="3.5"/><circle cx="59.2" cy="461.4" r="3.5"/><circle cx="59.6" cy="453.8" r="3.5"/><circle cx="59.9" cy="443.4" r="3.5"/><circle cx="60.3" cy="431.7" r="3.5"/><circle cx="60.7" cy="413.6" r="3.5"/><circle cx="61" cy="390" r="3.5"/><circle cx="61.3" cy="366.3" r="3.5"/><circle cx="61.7" cy="400.5" r="3.5"/><circle cx="62.1" cy="420.3" r="3.5"/><circle cx="62.5" cy="435.1" r="3.5"/><circle cx="62.8" cy="445.9" r="3.5"/><circle cx="63.2" cy="454.6" r="3.5"/><circle cx="63.5" cy="458.6" r="3.5"/><circle cx="63.9" cy="462.5" r="3.5"/><circle cx="64.3" cy="464.7" r="3.5"/><circle cx="64.6" cy="465.9" r="3.5"/><circle cx="65" cy="466.3" r="3.5"/><circle cx="65.3" cy="465.3" r="3.5"/><circle cx="65.7" cy="464.7" r="3.5"/><circle cx="66.1" cy="465.4" r="3.5"/><circle cx="66.4" cy="466.4" r="3.5"/><circle cx="66.8" cy="467.1" r="3.5"/><circle cx="67.1" cy="468.3" r="3.5"/><circle cx="67.5" cy="469.8" r="3.5"/><circle cx="67.9" cy="471.8" r="3.5"/><circle cx="68.2" cy="473.3" r="3.5"/><circle cx="68.6" cy="475.2" r="3.5"/><circle cx="68.9" cy="475.7" r="3.5"/><circle cx="69.3" cy="477.1" r="3.5"/><circle cx="69.7" cy="477.8" r="3.5"/><circle cx="70" cy="478.6" r="3.5"/><circle cx="70.4" cy="479" r="3.5"/><circle cx="70.7" cy="480.3" r="3.5"/><circle cx="71.1" cy="480.1" r="3.5"/><circle cx="71.5" cy="480.3" r="3.5"/><circle cx="71.8" cy="478.8" r="3.5"/><circle cx="72.2" cy="479.7" r="3.5"/><circle cx="72.5" cy="479.6" r="3.5"/><circle cx="72.9" cy="480.2" r="3.5"/><circle cx="73.3" cy="479" r="3.5"/><circle cx="73.6" cy="480.5" r="3.5"/><circle cx="74" cy="480.5" r="3.5"/><circle cx="74.3" cy="479.5" r="3.5"/><circle cx="74.7" cy="479.6" r="3.5"/><circle cx="75.1" cy="479.7" r="3.5"/><circle cx="75.4" cy="480.1" r="3.5"/><circle cx="75.8" cy="480.3" r="3.5"/><circle cx="76.1" cy="481" r="3.5"/><circle cx="76.5" cy="479.9" r="3.5"/><circle cx="76.9" cy="480.4" r="3.5"/><circle cx="77.2" cy="480.1" r="3.5"/><circle cx="77.6" cy="480.8" r="3.5"/><circle cx="77.9" cy="480.2" r="3.5"/><circle cx="78.3" cy="480.3" r="3.5"/><circle cx="78.7" cy="479.1" r="3.5"/><circle cx="79" cy="479.3" r="3.5"/><circle cx="79.4" cy="478.9" r="3.5"/><circle cx="79.7" cy="479.7" r="3.5"/><circle cx="80.1" cy="479.2" r="3.5"/><circle cx="80.5" cy="478.6" r="3.5"/><circle cx="80.8" cy="478.3" r="3.5"/><circle cx="81.2" cy="478.6" r="3.5"/><circle cx="81.5" cy="477.8" r="3.5"/><circle cx="81.9" cy="477.5" r="3.5"/><circle cx="82.3" cy="477.9" r="3.5"/><circle cx="82.6" cy="478.6" r="3.5"/><circle cx="83" cy="477.1" r="3.5"/><circle cx="83.3" cy="476.7" r="3.5"/><circle cx="83.7" cy="476.2" r="3.5"/><circle cx="84.1" cy="475.8" r="3.5"/><circle cx="84.4" cy="476.3" r="3.5"/><circle cx="84.8" cy="476" r="3.5"/><circle cx="85.1" cy="475.2" r="3.5"/><circle cx="85.5" cy="475" r="3.5"/><circle cx="85.9" cy="474.4" r="3.5"/><circle cx="86.2" cy="473.7" r="3.5"/><circle cx="86.6" cy="472.1" r="3.5"/><circle cx="86.9" cy="471.4" r="3.5"/><circle cx="87.3" cy="470.2" r="3.5"/><circle cx="87.7" cy="468" r="3.5"/><circle cx="88" cy="466" r="3.5"/><circle cx="88.4" cy="463.4" r="3.5"/><circle cx="88.7" cy="460.8" r="3.5"/><circle cx="89.1" cy="458.2" r="3.5"/><circle cx="89.5" cy="454.4" r="3.5"/><circle cx="89.8" cy="451.2" r="3.5"/><circle cx="90.2" cy="448.7" r="3.5"/><circle cx="90.5" cy="446.2" r="3.5"/><circle cx="90.9" cy="445.2" r="3.5"/><circle cx="91.2" cy="443.1" r="3.5"/><circle cx="91.6" cy="445.2" r="3.5"/><circle cx="92" cy="446.5" r="3.5"/><circle cx="92.3" cy="449.5" r="3.5"/><circle cx="92.7" cy="452.9" r="3.5"/><circle cx="93.1" cy="456.3" r="3.5"/><circle cx="93.4" cy="459.5" r="3.5"/><circle cx="93.8" cy="462.1" r="3.5"/><circle cx="94.1" cy="465.3" r="3.5"/><circle cx="94.5" cy="466.7" r="3.5"/><circle cx="94.9" cy="468.6" r="3.5"/><circle cx="95.2" cy="470.3" r="3.5"/><circle cx="95.6" cy="470.4" r="3.5"/><circle cx="95.9" cy="471.9" r="3.5"/><circle cx="96.3" cy="471.4" r="3.5"/><circle cx="96.7" cy="471.5" r="3.5"/><circle cx="97" cy="469.8" r="3.5"/><circle cx="97.4" cy="468.5" r="3.5"/><circle cx="97.7" cy="467.2" r="3.5"/><circle cx="98.1" cy="465.3" r="3.5"/><circle cx="98.5" cy="462" r="3.5"/><circle cx="98.8" cy="459.1" r="3.5"/><circle cx="99.2" cy="454.7" r="3.5"/><circle cx="99.5" cy="450.1" r="3.5"/><circle cx="99.9" cy="442.6" r="3.5"/><circle cx="100.3" cy="435.2" r="3.5"/><circle cx="100.6" cy="424.5" r="3.5"/><circle cx="101" cy="412.1" r="3.5"/><circle cx="101.3" cy="397" r="3.5"/><circle cx="101.7" cy="378.1" r="3.5"/><circle cx="102.1" cy="355.7" r="3.5"/><circle cx="102.5" cy="320.6" r="3.5"/><circle cx="102.8" cy="343.7" r="3.5"/><circle cx="103.1" cy="369.1" r="3.5"/><circle cx="103.5" cy="390" r="3.5"/><circle cx="103.9" cy="406" r="3.5"/><circle cx="104.2" cy="419.4" r="3.5"/><circle cx="104.6" cy="430" r="3.5"/><circle cx="104.9" cy="438.1" r="3.5"/><circle cx="105.3" cy="446.2" r="3.5"/><circle cx="105.7" cy="450.7" r="3.5"/><circle cx="106" cy="456.1" r="3.5"/><circle cx="106.4" cy="459.1" r="3.5"/><circle cx="106.7" cy="462.1" r="3.5"/><circle cx="107.1" cy="463.2" r="3.5"/><circle cx="107.5" cy="463.7" r="3.5"/><circle cx="107.8" cy="464.6" r="3.5"/><circle cx="108.2" cy="463.9" r="3.5"/><circle cx="108.5" cy="463.5" r="3.5"/><circle cx="108.9" cy="462.7" r="3.5"/><circle cx="109.3" cy="461.8" r="3.5"/><circle cx="109.6" cy="461.1" r="3.5"/><circle cx="110" cy="460.7" r="3.5"/><circle cx="110.3" cy="461.6" r="3.5"/><circle cx="110.7" cy="461.8" r="3.5"/><circle cx="111.1" cy="464.2" r="3.5"/><circle cx="111.4" cy="465.4" r="3.5"/><circle cx="111.8" cy="468" r="3.5"/><circle cx="112.1" cy="469.5" r="3.5"/><circle cx="112.5" cy="469.2" r="3.5"/><circle cx="112.9" cy="471" r="3.5"/><circle cx="113.2" cy="471.5" r="3.5"/><circle cx="113.6" cy="471.4" r="3.5"/><circle cx="113.9" cy="472.3" r="3.5"/><circle cx="114.3" cy="471.8" r="3.5"/><circle cx="114.7" cy="471" r="3.5"/><circle cx="115" cy="471.4" r="3.5"/><circle cx="115.4" cy="471" r="3.5"/><circle cx="115.7" cy="470.6" r="3.5"/><circle cx="116.1" cy="469.3" r="3.5"/><circle cx="116.5" cy="469.4" r="3.5"/><circle cx="116.8" cy="468.5" r="3.5"/><circle cx="117.2" cy="466.6" r="3.5"/><circle cx="117.5" cy="465.6" r="3.5"/><circle cx="117.9" cy="464.5" r="3.5"/><circle cx="118.3" cy="462.6" r="3.5"/><circle cx="118.6" cy="461.7" r="3.5"/><circle cx="119" cy="458.6" r="3.5"/><circle cx="119.3" cy="455.1" r="3.5"/><circle cx="119.7" cy="451.5" r="3.5"/><circle cx="120.1" cy="446.8" r="3.5"/><circle cx="120.4" cy="441.2" r="3.5"/><circle cx="120.8" cy="431" r="3.5"/><circle cx="121.1" cy="418.6" r="3.5"/><circle cx="121.5" cy="401.8" r="3.5"/><circle cx="121.9" cy="378.9" r="3.5"/><circle cx="122.2" cy="350.6" r="3.5"/><circle cx="122.6" cy="312.7" r="3.5"/><circle cx="127.6" cy="312.9" r="3.5"/><circle cx="128" cy="349.2" r="3.5"/><circle cx="128.3" cy="378.7" r="3.5"/><circle cx="128.7" cy="401.1" r="3.5"/><circle cx="129.1" cy="417.5" r="3.5"/><circle cx="129.4" cy="430" r="3.5"/><circle cx="129.8" cy="438.8" r="3.5"/><circle cx="130.1" cy="444.3" r="3.5"/><circle cx="130.5" cy="447.9" r="3.5"/><circle cx="130.9" cy="450.7" r="3.5"/><circle cx="131.2" cy="452.3" r="3.5"/><circle cx="131.6" cy="451.3" r="3.5"/><circle cx="131.9" cy="450.4" r="3.5"/><circle cx="132.3" cy="448.6" r="3.5"/><circle cx="132.7" cy="446.8" r="3.5"/><circle cx="133" cy="442.7" r="3.5"/><circle cx="133.4" cy="441.2" r="3.5"/><circle cx="133.7" cy="439.8" r="3.5"/><circle cx="134.1" cy="438.4" r="3.5"/><circle cx="134.5" cy="440.7" r="3.5"/><circle cx="134.8" cy="443.1" r="3.5"/><circle cx="135.2" cy="446.6" r="3.5"/><circle cx="135.5" cy="451.5" r="3.5"/><circle cx="135.9" cy="455.3" r="3.5"/><circle cx="136.3" cy="460" r="3.5"/><circle cx="136.6" cy="464.9" r="3.5"/><circle cx="137" cy="466.9" r="3.5"/><circle cx="137.3" cy="470.8" r="3.5"/><circle cx="137.7" cy="472.1" r="3.5"/><circle cx="138.1" cy="474.3" r="3.5"/><circle cx="138.4" cy="475.1" r="3.5"/><circle cx="138.8" cy="475.1" r="3.5"/><circle cx="139.1" cy="476.7" r="3.5"/><circle cx="139.5" cy="477.7" r="3.5"/><circle cx="139.9" cy="477.6" r="3.5"/><circle cx="140.2" cy="478" r="3.5"/><circle cx="140.6" cy="479.2" r="3.5"/><circle cx="140.9" cy="479.1" r="3.5"/><circle cx="141.3" cy="478.9" r="3.5"/><circle cx="141.7" cy="479.7" r="3.5"/><circle cx="142" cy="480.6" r="3.5"/><circle cx="142.4" cy="480.2" r="3.5"/><circle cx="142.7" cy="481.1" r="3.5"/><circle cx="143.1" cy="481.6" r="3.5"/><circle cx="143.5" cy="481.1" r="3.5"/><circle cx="143.8" cy="480.7" r="3.5"/><circle cx="144.2" cy="480.8" r="3.5"/><circle cx="144.5" cy="481.5" r="3.5"/><circle cx="144.9" cy="482" r="3.5"/><circle cx="145.3" cy="481.9" r="3.5"/><circle cx="145.6" cy="482.1" r="3.5"/><circle cx="146" cy="481.8" r="3.5"/><circle cx="146.3" cy="482.2" r="3.5"/><circle cx="146.7" cy="481.9" r="3.5"/><circle cx="147.1" cy="482.1" r="3.5"/><circle cx="147.4" cy="481.7" r="3.5"/><circle cx="147.8" cy="481.7" r="3.5"/><circle cx="148.1" cy="482.3" r="3.5"/><circle cx="148.5" cy="482" r="3.5"/><circle cx="148.9" cy="482.2" r="3.5"/><circle cx="149.2" cy="483" r="3.5"/><circle cx="149.6" cy="482.7" r="3.5"/><circle cx="149.9" cy="484.1" r="3.5"/><circle cx="150.3" cy="483.3" r="3.5"/><circle cx="150.7" cy="482.6" r="3.5"/><circle cx="151" cy="483.3" r="3.5"/><circle cx="151.4" cy="483.2" r="3.5"/><circle cx="151.7" cy="482.7" r="3.5"/><circle cx="152.1" cy="483.6" r="3.5"/><circle cx="152.5" cy="482.8" r="3.5"/><circle cx="152.8" cy="481.8" r="3.5"/><circle cx="153.2" cy="483.6" r="3.5"/><circle cx="153.5" cy="483" r="3.5"/><circle cx="153.9" cy="483.9" r="3.5"/><circle cx="154.3" cy="483" r="3.5"/><circle cx="154.6" cy="482.8" r="3.5"/><circle cx="155" cy="484.1" r="3.5"/><circle cx="155.3" cy="482.9" r="3.5"/><circle cx="155.7" cy="483.6" r="3.5"/><circle cx="156.1" cy="484.1" r="3.5"/><circle cx="156.4" cy="483.6" r="3.5"/><circle cx="156.8" cy="483.5" r="3.5"/><circle cx="157.1" cy="483.6" r="3.5"/><circle cx="157.5" cy="484" r="3.5"/><circle cx="157.9" cy="483.3" r="3.5"/><circle cx="158.2" cy="483.9" r="3.5"/><circle cx="158.6" cy="484" r="3.5"/><circle cx="158.9" cy="484.8" r="3.5"/><circle cx="159.3" cy="483.6" r="3.5"/><circle cx="159.7" cy="483.4" r="3.5"/><circle cx="160" cy="484.1" r="3.5"/><circle cx="160.4" cy="483.6" r="3.5"/><circle cx="160.7" cy="484" r="3.5"/><circle cx="161.1" cy="483.9" r="3.5"/><circle cx="161.5" cy="484.4" r="3.5"/><circle cx="161.8" cy="483.6" r="3.5"/><circle cx="162.2" cy="483.9" r="3.5"/><circle cx="162.5" cy="482.8" r="3.5"/><circle cx="162.9" cy="483.5" r="3.5"/><circle cx="163.3" cy="484.6" r="3.5"/><circle cx="163.6" cy="483.6" r="3.5"/><circle cx="164" cy="483.6" r="3.5"/><circle cx="164.3" cy="483.4" r="3.5"/><circle cx="164.7" cy="484.2" r="3.5"/><circle cx="165.1" cy="484" r="3.5"/><circle cx="165.4" cy="483.3" r="3.5"/><circle cx="165.8" cy="484.1" r="3.5"/><circle cx="166.1" cy="483.8" r="3.5"/><circle cx="166.5" cy="483.9" r="3.5"/><circle cx="166.9" cy="483.2" r="3.5"/><circle cx="167.2" cy="484.1" r="3.5"/><circle cx="167.6" cy="483.3" r="3.5"/><circle cx="167.9" cy="482.9" r="3.5"/><circle cx="168.3" cy="482.4" r="3.5"/><circle cx="168.7" cy="482.1" r="3.5"/><circle cx="169" cy="482.2" r="3.5"/><circle cx="169.4" cy="481.1" r="3.5"/><circle cx="169.7" cy="481" r="3.5"/><circle cx="170.1" cy="479.9" r="3.5"/><circle cx="170.5" cy="479.1" r="3.5"/><circle cx="170.8" cy="477.5" r="3.5"/><circle cx="171.2" cy="475.4" r="3.5"/><circle cx="171.5" cy="472.4" r="3.5"/><circle cx="171.9" cy="470.6" r="3.5"/><circle cx="172.3" cy="467.4" r="3.5"/><circle cx="172.6" cy="462.8" r="3.5"/><circle cx="173" cy="457.6" r="3.5"/><circle cx="173.3" cy="450.4" r="3.5"/><circle cx="173.7" cy="441.9" r="3.5"/><circle cx="173.9" cy="436.1" r="3.5"/><circle cx="174.1" cy="441.6" r="3.5"/><circle cx="174.4" cy="449.8" r="3.5"/><circle cx="174.8" cy="456.4" r="3.5"/><circle cx="175.1" cy="461.5" r="3.5"/><circle cx="175.5" cy="466.4" r="3.5"/><circle cx="175.9" cy="470.6" r="3.5"/><circle cx="176.2" cy="472.9" r="3.5"/><circle cx="176.6" cy="474.6" r="3.5"/><circle cx="176.9" cy="477.3" r="3.5"/><circle cx="177.3" cy="478.7" r="3.5"/><circle cx="177.7" cy="479.6" r="3.5"/><circle cx="178" cy="480.4" r="3.5"/><circle cx="178.4" cy="481.3" r="3.5"/><circle cx="178.7" cy="481.6" r="3.5"/><circle cx="179.1" cy="482.2" r="3.5"/><circle cx="179.5" cy="481.8" r="3.5"/><circle cx="179.8" cy="483.1" r="3.5"/><circle cx="180.2" cy="482.7" r="3.5"/><circle cx="180.5" cy="483.6" r="3.5"/><circle cx="180.9" cy="481.9" r="3.5"/><circle cx="181.3" cy="483.1" r="3.5"/><circle cx="181.6" cy="483.1" r="3.5"/><circle cx="182" cy="482.3" r="3.5"/><circle cx="182.3" cy="482.4" r="3.5"/><circle cx="182.7" cy="482.2" r="3.5"/><circle cx="183.1" cy="481.7" r="3.5"/><circle cx="183.4" cy="480.8" r="3.5"/><circle cx="183.8" cy="480.6" r="3.5"/><circle cx="184.1" cy="480.8" r="3.5"/><circle cx="184.5" cy="480.8" r="3.5"/><circle cx="184.9" cy="480.4" r="3.5"/><circle cx="185.2" cy="480.6" r="3.5"/><circle cx="185.6" cy="481.1" r="3.5"/><circle cx="185.9" cy="482" r="3.5"/><circle cx="186.3" cy="481.5" r="3.5"/><circle cx="186.7" cy="481.9" r="3.5"/><circle cx="187" cy="483" r="3.5"/><circle cx="187.4" cy="482.8" r="3.5"/><circle cx="187.7" cy="483.3" r="3.5"/><circle cx="188.1" cy="483.8" r="3.5"/><circle cx="188.5" cy="484.2" r="3.5"/><circle cx="188.8" cy="483.6" r="3.5"/><circle cx="189.2" cy="484.6" r="3.5"/><circle cx="189.5" cy="483.5" r="3.5"/><circle cx="189.9" cy="484.6" r="3.5"/><circle cx="190.3" cy="483.8" r="3.5"/><circle cx="190.6" cy="483.9" r="3.5"/><circle cx="191" cy="484.9" r="3.5"/><circle cx="191.3" cy="484.4" r="3.5"/><circle cx="191.7" cy="484.3" r="3.5"/><circle cx="192.1" cy="484.5" r="3.5"/><circle cx="192.4" cy="484.9" r="3.5"/><circle cx="192.8" cy="484.7" r="3.5"/><circle cx="193.1" cy="484.8" r="3.5"/><circle cx="193.5" cy="485.3" r="3.5"/><circle cx="193.9" cy="484.6" r="3.5"/><circle cx="194.2" cy="484.7" r="3.5"/><circle cx="194.6" cy="484.7" r="3.5"/><circle cx="194.9" cy="485.5" r="3.5"/><circle cx="195.3" cy="485.5" r="3.5"/><circle cx="195.7" cy="485.7" r="3.5"/><circle cx="196" cy="485.1" r="3.5"/><circle cx="196.4" cy="485.1" r="3.5"/><circle cx="196.7" cy="485.6" r="3.5"/><circle cx="197.1" cy="485.1" r="3.5"/><circle cx="197.5" cy="485.7" r="3.5"/><circle cx="197.8" cy="485.6" r="3.5"/><circle cx="198.2" cy="485" r="3.5"/><circle cx="198.5" cy="485.3" r="3.5"/><circle cx="198.9" cy="485.3" r="3.5"/><circle cx="199.3" cy="486.2" r="3.5"/><circle cx="199.6" cy="486.6" r="3.5"/><circle cx="200" cy="485.4" r="3.5"/><circle cx="200.3" cy="485.4" r="3.5"/><circle cx="200.7" cy="484.4" r="3.5"/><circle cx="201.1" cy="485.5" r="3.5"/><circle cx="201.4" cy="485.4" r="3.5"/><circle cx="201.8" cy="484.9" r="3.5"/><circle cx="202.1" cy="485.7" r="3.5"/><circle cx="202.5" cy="484.5" r="3.5"/><circle cx="202.9" cy="485.1" r="3.5"/><circle cx="203.2" cy="485.2" r="3.5"/><circle cx="203.6" cy="484.4" r="3.5"/><circle cx="203.9" cy="485.3" r="3.5"/><circle cx="204.3" cy="485.2" r="3.5"/><circle cx="204.7" cy="483.9" r="3.5"/><circle cx="205" cy="483.7" r="3.5"/><circle cx="205.4" cy="484.4" r="3.5"/><circle cx="205.7" cy="483.8" r="3.5"/><circle cx="206.1" cy="482.9" r="3.5"/><circle cx="206.5" cy="482.9" r="3.5"/><circle cx="206.8" cy="482.5" r="3.5"/><circle cx="207.2" cy="482.1" r="3.5"/><circle cx="207.5" cy="482.1" r="3.5"/><circle cx="207.9" cy="481.3" r="3.5"/><circle cx="208.3" cy="481.2" r="3.5"/><circle cx="208.6" cy="480.3" r="3.5"/><circle cx="209" cy="479" r="3.5"/><circle cx="209.3" cy="478.1" r="3.5"/><circle cx="209.7" cy="476.9" r="3.5"/><circle cx="210.1" cy="475.1" r="3.5"/><circle cx="210.4" cy="472.4" r="3.5"/><circle cx="210.8" cy="471.3" r="3.5"/><circle cx="211.1" cy="468.5" r="3.5"/><circle cx="211.5" cy="466.4" r="3.5"/><circle cx="211.9" cy="462.4" r="3.5"/><circle cx="212.2" cy="458.9" r="3.5"/><circle cx="212.6" cy="454.4" r="3.5"/><circle cx="212.9" cy="450" r="3.5"/><circle cx="213.3" cy="443.6" r="3.5"/><circle cx="213.7" cy="436.7" r="3.5"/><circle cx="214" cy="429.3" r="3.5"/><circle cx="214.4" cy="420.1" r="3.5"/><circle cx="214.7" cy="410.1" r="3.5"/><circle cx="215.1" cy="398.3" r="3.5"/><circle cx="215.3" cy="391.1" r="3.5"/><circle cx="215.5" cy="397.8" r="3.5"/><circle cx="215.8" cy="409" r="3.5"/><circle cx="216.2" cy="419.8" r="3.5"/><circle cx="216.5" cy="428.9" r="3.5"/><circle cx="216.9" cy="437.3" r="3.5"/><circle cx="217.3" cy="443.4" r="3.5"/><circle cx="217.6" cy="449.7" r="3.5"/><circle cx="218" cy="455.2" r="3.5"/><circle cx="218.3" cy="460" r="3.5"/><circle cx="218.7" cy="463.6" r="3.5"/><circle cx="219.1" cy="466.3" r="3.5"/><circle cx="219.4" cy="468.5" r="3.5"/><circle cx="219.8" cy="470.8" r="3.5"/><circle cx="220.1" cy="472.3" r="3.5"/><circle cx="220.5" cy="472.2" r="3.5"/><circle cx="220.9" cy="471.9" r="3.5"/><circle cx="221.2" cy="471" r="3.5"/><circle cx="221.6" cy="468.5" r="3.5"/><circle cx="221.9" cy="466" r="3.5"/><circle cx="222.3" cy="462.4" r="3.5"/><circle cx="222.7" cy="458.2" r="3.5"/><circle cx="223" cy="452.8" r="3.5"/><circle cx="223.4" cy="446.5" r="3.5"/><circle cx="223.7" cy="441.4" r="3.5"/><circle cx="224.1" cy="435.7" r="3.5"/><circle cx="224.5" cy="429.2" r="3.5"/><circle cx="224.8" cy="425" r="3.5"/><circle cx="225.2" cy="421.8" r="3.5"/><circle cx="225.5" cy="420.9" r="3.5"/><circle cx="225.9" cy="420.5" r="3.5"/><circle cx="226.3" cy="424.4" r="3.5"/><circle cx="226.6" cy="427.3" r="3.5"/><circle cx="227" cy="432.9" r="3.5"/><circle cx="227.3" cy="437.7" r="3.5"/><circle cx="227.7" cy="442.8" r="3.5"/><circle cx="228.1" cy="447.9" r="3.5"/><circle cx="228.4" cy="452.9" r="3.5"/><circle cx="228.8" cy="456.1" r="3.5"/><circle cx="229.1" cy="459.6" r="3.5"/><circle cx="229.5" cy="462.2" r="3.5"/><circle cx="229.9" cy="463.8" r="3.5"/><circle cx="230.2" cy="466.8" r="3.5"/><circle cx="230.6" cy="467.7" r="3.5"/><circle cx="230.9" cy="468.5" r="3.5"/><circle cx="231.3" cy="470" r="3.5"/><circle cx="231.7" cy="469.8" r="3.5"/><circle cx="232" cy="471.1" r="3.5"/><circle cx="232.4" cy="472.7" r="3.5"/><circle cx="232.7" cy="473.2" r="3.5"/><circle cx="233.1" cy="472.7" r="3.5"/><circle cx="233.5" cy="473.1" r="3.5"/><circle cx="233.8" cy="475.1" r="3.5"/><circle cx="234.2" cy="476.9" r="3.5"/><circle cx="234.5" cy="477.1" r="3.5"/><circle cx="234.9" cy="478.1" r="3.5"/><circle cx="235.3" cy="479.3" r="3.5"/><circle cx="235.6" cy="479.3" r="3.5"/><circle cx="236" cy="480.5" r="3.5"/><circle cx="236.3" cy="481.3" r="3.5"/><circle cx="236.7" cy="481.7" r="3.5"/><circle cx="237.1" cy="482.1" r="3.5"/><circle cx="237.4" cy="482.1" r="3.5"/><circle cx="237.8" cy="482.9" r="3.5"/><circle cx="238.1" cy="482.7" r="3.5"/><circle cx="238.5" cy="483.7" r="3.5"/><circle cx="238.9" cy="484.4" r="3.5"/><circle cx="239.2" cy="483" r="3.5"/><circle cx="239.6" cy="482.4" r="3.5"/><circle cx="239.9" cy="483.1" r="3.5"/><circle cx="240.3" cy="483.5" r="3.5"/><circle cx="240.7" cy="483.7" r="3.5"/><circle cx="241" cy="483.7" r="3.5"/><circle cx="241.4" cy="482.8" r="3.5"/><circle cx="241.7" cy="482.8" r="3.5"/><circle cx="242.1" cy="483.7" r="3.5"/><circle cx="242.5" cy="482.5" r="3.5"/><circle cx="242.8" cy="483.4" r="3.5"/><circle cx="243.2" cy="482.6" r="3.5"/><circle cx="243.5" cy="482.9" r="3.5"/><circle cx="243.9" cy="482.6" r="3.5"/><circle cx="244.3" cy="482.4" r="3.5"/><circle cx="244.6" cy="482" r="3.5"/><circle cx="245" cy="480.8" r="3.5"/><circle cx="245.3" cy="480.9" r="3.5"/><circle cx="245.7" cy="480.1" r="3.5"/><circle cx="246.1" cy="479.6" r="3.5"/><circle cx="246.4" cy="479.1" r="3.5"/><circle cx="246.8" cy="477.5" r="3.5"/><circle cx="247.1" cy="476.1" r="3.5"/><circle cx="247.5" cy="474.8" r="3.5"/><circle cx="247.9" cy="473.4" r="3.5"/><circle cx="248.2" cy="472" r="3.5"/><circle cx="248.6" cy="469.2" r="3.5"/><circle cx="248.9" cy="467.5" r="3.5"/><circle cx="249.3" cy="464.2" r="3.5"/><circle cx="249.7" cy="460.5" r="3.5"/><circle cx="250" cy="455.9" r="3.5"/><circle cx="250.4" cy="451.9" r="3.5"/><circle cx="250.7" cy="446.5" r="3.5"/><circle cx="251.1" cy="438.9" r="3.5"/><circle cx="251.4" cy="434" r="3.5"/><circle cx="251.8" cy="442.8" r="3.5"/><circle cx="252.2" cy="448.4" r="3.5"/><circle cx="252.5" cy="453.7" r="3.5"/><circle cx="252.9" cy="459.1" r="3.5"/><circle cx="253.3" cy="462.4" r="3.5"/><circle cx="253.6" cy="464.8" r="3.5"/><circle cx="254" cy="468" r="3.5"/><circle cx="254.3" cy="470.3" r="3.5"/><circle cx="254.7" cy="472.4" r="3.5"/><circle cx="255.1" cy="473.2" r="3.5"/><circle cx="255.4" cy="476.1" r="3.5"/><circle cx="255.8" cy="476.8" r="3.5"/><circle cx="256.1" cy="478.2" r="3.5"/><circle cx="256.5" cy="479" r="3.5"/><circle cx="256.9" cy="480.3" r="3.5"/><circle cx="257.2" cy="480.5" r="3.5"/><circle cx="257.6" cy="480.8" r="3.5"/><circle cx="257.9" cy="481.9" r="3.5"/><circle cx="258.3" cy="482.7" r="3.5"/><circle cx="258.7" cy="482.3" r="3.5"/><circle cx="259" cy="483.4" r="3.5"/><circle cx="259.4" cy="483.1" r="3.5"/><circle cx="259.7" cy="483" r="3.5"/><circle cx="260.1" cy="484.1" r="3.5"/><circle cx="260.5" cy="483.2" r="3.5"/><circle cx="260.8" cy="484.1" r="3.5"/><circle cx="261.2" cy="483.6" r="3.5"/><circle cx="261.5" cy="484.1" r="3.5"/><circle cx="261.9" cy="483.4" r="3.5"/><circle cx="262.3" cy="483.6" r="3.5"/><circle cx="262.6" cy="484.5" r="3.5"/><circle cx="263" cy="484.1" r="3.5"/><circle cx="263.3" cy="484.1" r="3.5"/><circle cx="263.7" cy="483.8" r="3.5"/><circle cx="264.1" cy="484.2" r="3.5"/><circle cx="264.4" cy="483.4" r="3.5"/><circle cx="264.8" cy="483.5" r="3.5"/><circle cx="265.1" cy="483.9" r="3.5"/><circle cx="265.5" cy="483.5" r="3.5"/><circle cx="265.9" cy="483.6" r="3.5"/><circle cx="266.2" cy="483.8" r="3.5"/><circle cx="266.6" cy="483.7" r="3.5"/><circle cx="266.9" cy="483.6" r="3.5"/><circle cx="267.3" cy="484.4" r="3.5"/><circle cx="267.7" cy="484" r="3.5"/><circle cx="268" cy="484" r="3.5"/><circle cx="268.4" cy="483.3" r="3.5"/><circle cx="268.7" cy="483" r="3.5"/><circle cx="269.1" cy="482.5" r="3.5"/><circle cx="269.5" cy="482.8" r="3.5"/><circle cx="269.8" cy="481.9" r="3.5"/><circle cx="270.2" cy="482.4" r="3.5"/><circle cx="270.5" cy="482.8" r="3.5"/><circle cx="270.9" cy="483" r="3.5"/><circle cx="271.3" cy="482.5" r="3.5"/><circle cx="271.6" cy="481.4" r="3.5"/><circle cx="272" cy="481.7" r="3.5"/><circle cx="272.3" cy="480.8" r="3.5"/><circle cx="272.7" cy="481.2" r="3.5"/><circle cx="273.1" cy="480.3" r="3.5"/><circle cx="273.4" cy="480.3" r="3.5"/><circle cx="273.8" cy="480.4" r="3.5"/><circle cx="274.1" cy="478.9" r="3.5"/><circle cx="274.5" cy="478.6" r="3.5"/><circle cx="274.9" cy="476.5" r="3.5"/><circle cx="275.2" cy="474.9" r="3.5"/><circle cx="275.6" cy="473.9" r="3.5"/><circle cx="275.9" cy="472" r="3.5"/><circle cx="276.3" cy="468.5" r="3.5"/><circle cx="276.7" cy="466" r="3.5"/><circle cx="277" cy="462.1" r="3.5"/><circle cx="277.4" cy="459.1" r="3.5"/><circle cx="277.7" cy="456" r="3.5"/><circle cx="278.1" cy="451.9" r="3.5"/><circle cx="278.5" cy="448.3" r="3.5"/><circle cx="278.8" cy="445.1" r="3.5"/><circle cx="279.2" cy="443.7" r="3.5"/><circle cx="279.5" cy="442.2" r="3.5"/><circle cx="279.9" cy="440.6" r="3.5"/><circle cx="280.3" cy="438.6" r="3.5"/><circle cx="280.6" cy="435" r="3.5"/><circle cx="281" cy="431.6" r="3.5"/><circle cx="281.3" cy="423.1" r="3.5"/><circle cx="281.7" cy="411.1" r="3.5"/><circle cx="282.1" cy="393.7" r="3.5"/><circle cx="282.4" cy="367" r="3.5"/><circle cx="282.8" cy="333.5" r="3.5"/><circle cx="286" cy="312.9" r="3.5"/><circle cx="286.4" cy="353.7" r="3.5"/><circle cx="286.7" cy="386.4" r="3.5"/><circle cx="287.1" cy="409.9" r="3.5"/><circle cx="287.5" cy="426.7" r="3.5"/><circle cx="287.8" cy="438.1" r="3.5"/><circle cx="288.2" cy="448.4" r="3.5"/><circle cx="288.5" cy="452.8" r="3.5"/><circle cx="288.9" cy="458.7" r="3.5"/><circle cx="289.3" cy="463.6" r="3.5"/><circle cx="289.6" cy="465.7" r="3.5"/><circle cx="290" cy="468.3" r="3.5"/><circle cx="290.3" cy="469.7" r="3.5"/><circle cx="290.7" cy="472.6" r="3.5"/><circle cx="291.1" cy="472.9" r="3.5"/><circle cx="291.4" cy="474.8" r="3.5"/><circle cx="291.8" cy="475.7" r="3.5"/><circle cx="292.1" cy="476" r="3.5"/><circle cx="292.5" cy="477.6" r="3.5"/><circle cx="292.9" cy="477" r="3.5"/><circle cx="293.2" cy="477.5" r="3.5"/><circle cx="293.6" cy="477.9" r="3.5"/><circle cx="293.9" cy="477.5" r="3.5"/><circle cx="294.3" cy="477.6" r="3.5"/><circle cx="294.7" cy="477.3" r="3.5"/><circle cx="295" cy="476" r="3.5"/><circle cx="295.4" cy="475.1" r="3.5"/><circle cx="295.7" cy="474.2" r="3.5"/><circle cx="296.1" cy="473.3" r="3.5"/><circle cx="296.5" cy="473" r="3.5"/><circle cx="296.8" cy="471.9" r="3.5"/><circle cx="297.2" cy="471.9" r="3.5"/><circle cx="297.5" cy="471.9" r="3.5"/><circle cx="297.9" cy="472.1" r="3.5"/><circle cx="298.3" cy="473.9" r="3.5"/><circle cx="298.6" cy="474.2" r="3.5"/><circle cx="299" cy="475.8" r="3.5"/><circle cx="299.3" cy="477.7" r="3.5"/><circle cx="299.7" cy="477.6" r="3.5"/><circle cx="300.1" cy="479.1" r="3.5"/><circle cx="300.4" cy="479.2" r="3.5"/><circle cx="300.8" cy="480.3" r="3.5"/><circle cx="301.1" cy="480.4" r="3.5"/><circle cx="301.5" cy="481.4" r="3.5"/><circle cx="301.9" cy="481.6" r="3.5"/><circle cx="302.2" cy="482.1" r="3.5"/><circle cx="302.6" cy="483" r="3.5"/><circle cx="302.9" cy="482.5" r="3.5"/><circle cx="303.3" cy="482.7" r="3.5"/><circle cx="303.7" cy="482.6" r="3.5"/><circle cx="304" cy="482.7" r="3.5"/><circle cx="304.4" cy="482.6" r="3.5"/><circle cx="304.7" cy="482.3" r="3.5"/><circle cx="305.1" cy="483.3" r="3.5"/><circle cx="305.5" cy="484.1" r="3.5"/><circle cx="305.8" cy="483.8" r="3.5"/><circle cx="306.2" cy="483.5" r="3.5"/><circle cx="306.5" cy="484.6" r="3.5"/><circle cx="306.9" cy="483.8" r="3.5"/><circle cx="307.3" cy="483.8" r="3.5"/><circle cx="307.6" cy="483.6" r="3.5"/><circle cx="308" cy="483.9" r="3.5"/><circle cx="308.3" cy="484.3" r="3.5"/><circle cx="308.7" cy="485.4" r="3.5"/><circle cx="309.1" cy="484.5" r="3.5"/><circle cx="309.4" cy="484.3" r="3.5"/><circle cx="309.8" cy="484.5" r="3.5"/><circle cx="310.1" cy="484.6" r="3.5"/><circle cx="310.5" cy="483.9" r="3.5"/><circle cx="310.9" cy="484.7" r="3.5"/><circle cx="311.2" cy="484.9" r="3.5"/><circle cx="311.6" cy="484.7" r="3.5"/><circle cx="311.9" cy="484.8" r="3.5"/><circle cx="312.3" cy="483.9" r="3.5"/><circle cx="312.7" cy="483.7" r="3.5"/><circle cx="313" cy="485" r="3.5"/><circle cx="313.4" cy="484.8" r="3.5"/><circle cx="313.7" cy="483.6" r="3.5"/><circle cx="314.1" cy="484.3" r="3.5"/><circle cx="314.5" cy="484.2" r="3.5"/><circle cx="314.8" cy="484.4" r="3.5"/><circle cx="315.2" cy="484.2" r="3.5"/><circle cx="315.5" cy="483.8" r="3.5"/><circle cx="315.9" cy="484.1" r="3.5"/><circle cx="316.3" cy="484.1" r="3.5"/><circle cx="316.6" cy="484.1" r="3.5"/><circle cx="317" cy="483.3" r="3.5"/><circle cx="317.3" cy="482.9" r="3.5"/><circle cx="317.7" cy="483.9" r="3.5"/><circle cx="318.1" cy="483.6" r="3.5"/><circle cx="318.4" cy="484.5" r="3.5"/><circle cx="318.8" cy="484.7" r="3.5"/><circle cx="319.1" cy="484.6" r="3.5"/><circle cx="319.5" cy="484.3" r="3.5"/><circle cx="319.9" cy="484.6" r="3.5"/><circle cx="320.2" cy="485.1" r="3.5"/><circle cx="320.6" cy="484.3" r="3.5"/><circle cx="320.9" cy="485.1" r="3.5"/><circle cx="321.3" cy="485" r="3.5"/><circle cx="321.7" cy="484.9" r="3.5"/><circle cx="322" cy="485.5" r="3.5"/><circle cx="322.4" cy="484.6" r="3.5"/><circle cx="322.7" cy="485.5" r="3.5"/><circle cx="323.1" cy="484.7" r="3.5"/><circle cx="323.5" cy="484.9" r="3.5"/><circle cx="323.8" cy="484.9" r="3.5"/><circle cx="324.2" cy="485.7" r="3.5"/><circle cx="324.5" cy="485.2" r="3.5"/><circle cx="324.9" cy="485.7" r="3.5"/><circle cx="325.3" cy="485.3" r="3.5"/><circle cx="325.6" cy="486.4" r="3.5"/><circle cx="326" cy="486.9" r="3.5"/><circle cx="326.3" cy="486.3" r="3.5"/><circle cx="326.7" cy="487" r="3.5"/><circle cx="327.1" cy="486.6" r="3.5"/><circle cx="327.4" cy="487.4" r="3.5"/><circle cx="327.8" cy="486.6" r="3.5"/><circle cx="328.1" cy="486" r="3.5"/><circle cx="328.5" cy="487.4" r="3.5"/><circle cx="328.9" cy="486.8" r="3.5"/><circle cx="329.2" cy="486.5" r="3.5"/><circle cx="329.6" cy="486.7" r="3.5"/><circle cx="329.9" cy="486.4" r="3.5"/><circle cx="330.3" cy="487.1" r="3.5"/><circle cx="330.7" cy="486.8" r="3.5"/><circle cx="331" cy="488" r="3.5"/><circle cx="331.4" cy="487.7" r="3.5"/><circle cx="331.7" cy="486.7" r="3.5"/><circle cx="332.1" cy="486.8" r="3.5"/><circle cx="332.5" cy="487.2" r="3.5"/><circle cx="332.8" cy="486.6" r="3.5"/><circle cx="333.2" cy="487.4" r="3.5"/><circle cx="333.5" cy="487.4" r="3.5"/><circle cx="333.9" cy="487" r="3.5"/><circle cx="334.3" cy="487" r="3.5"/><circle cx="334.6" cy="487.4" r="3.5"/><circle cx="335" cy="487.6" r="3.5"/><circle cx="335.3" cy="487.5" r="3.5"/><circle cx="335.7" cy="486.4" r="3.5"/><circle cx="336.1" cy="486.2" r="3.5"/><circle cx="336.4" cy="484.8" r="3.5"/><circle cx="336.8" cy="484.6" r="3.5"/><circle cx="337.1" cy="483.2" r="3.5"/><circle cx="337.5" cy="483.1" r="3.5"/><circle cx="337.9" cy="481.1" r="3.5"/><circle cx="338.2" cy="480" r="3.5"/><circle cx="338.6" cy="479.1" r="3.5"/><circle cx="338.9" cy="477.7" r="3.5"/><circle cx="339.3" cy="474.9" r="3.5"/><circle cx="339.7" cy="473.2" r="3.5"/><circle cx="340" cy="471" r="3.5"/><circle cx="340.4" cy="468.1" r="3.5"/><circle cx="340.7" cy="464.2" r="3.5"/><circle cx="341.1" cy="460.7" r="3.5"/><circle cx="341.5" cy="456" r="3.5"/><circle cx="341.8" cy="451.4" r="3.5"/><circle cx="342.2" cy="444.9" r="3.5"/><circle cx="342.5" cy="436.8" r="3.5"/><circle cx="342.9" cy="428" r="3.5"/><circle cx="343.1" cy="423.7" r="3.5"/><circle cx="343.3" cy="428.4" r="3.5"/><circle cx="343.6" cy="436.2" r="3.5"/><circle cx="344" cy="443.6" r="3.5"/><circle cx="344.3" cy="449.1" r="3.5"/><circle cx="344.7" cy="453.8" r="3.5"/><circle cx="345.1" cy="459.2" r="3.5"/><circle cx="345.4" cy="462.6" r="3.5"/><circle cx="345.8" cy="466.1" r="3.5"/><circle cx="346.1" cy="467.9" r="3.5"/><circle cx="346.5" cy="470.9" r="3.5"/><circle cx="346.9" cy="472.5" r="3.5"/><circle cx="347.2" cy="474.7" r="3.5"/><circle cx="347.6" cy="475.5" r="3.5"/><circle cx="347.9" cy="476.7" r="3.5"/><circle cx="348.3" cy="477.7" r="3.5"/><circle cx="348.7" cy="479.3" r="3.5"/><circle cx="349" cy="479.4" r="3.5"/><circle cx="349.4" cy="479.6" r="3.5"/><circle cx="349.7" cy="480" r="3.5"/><circle cx="350.1" cy="480.3" r="3.5"/><circle cx="350.5" cy="481.8" r="3.5"/><circle cx="350.8" cy="480.5" r="3.5"/><circle cx="351.2" cy="481.3" r="3.5"/><circle cx="351.5" cy="482.3" r="3.5"/><circle cx="351.9" cy="482.8" r="3.5"/><circle cx="352.3" cy="482.4" r="3.5"/><circle cx="352.6" cy="483" r="3.5"/><circle cx="353" cy="483.1" r="3.5"/><circle cx="353.3" cy="483.3" r="3.5"/><circle cx="353.7" cy="483" r="3.5"/><circle cx="354.1" cy="483.8" r="3.5"/><circle cx="354.4" cy="483.2" r="3.5"/><circle cx="354.8" cy="483.8" r="3.5"/><circle cx="355.1" cy="482.6" r="3.5"/><circle cx="355.5" cy="483.4" r="3.5"/><circle cx="355.9" cy="482.3" r="3.5"/><circle cx="356.2" cy="482" r="3.5"/><circle cx="356.6" cy="482.5" r="3.5"/><circle cx="356.9" cy="481.5" r="3.5"/><circle cx="357.3" cy="481.5" r="3.5"/><circle cx="357.7" cy="480" r="3.5"/><circle cx="358" cy="480.4" r="3.5"/><circle cx="358.4" cy="478.6" r="3.5"/><circle cx="358.7" cy="477.1" r="3.5"/><circle cx="359.1" cy="476.6" r="3.5"/><circle cx="359.5" cy="476.1" r="3.5"/><circle cx="359.8" cy="474.9" r="3.5"/><circle cx="360.2" cy="475.5" r="3.5"/><circle cx="360.5" cy="476.6" r="3.5"/><circle cx="360.9" cy="476.8" r="3.5"/><circle cx="361.3" cy="477.3" r="3.5"/><circle cx="361.6" cy="478.1" r="3.5"/><circle cx="362" cy="479.5" r="3.5"/><circle cx="362.3" cy="479.3" r="3.5"/><circle cx="362.7" cy="479.2" r="3.5"/><circle cx="363.1" cy="480.7" r="3.5"/><circle cx="363.4" cy="480.8" r="3.5"/><circle cx="363.8" cy="482.1" r="3.5"/><circle cx="364.1" cy="481.3" r="3.5"/><circle cx="364.5" cy="480.6" r="3.5"/><circle cx="364.9" cy="480.2" r="3.5"/><circle cx="365.2" cy="480.5" r="3.5"/><circle cx="365.6" cy="479.3" r="3.5"/><circle cx="365.9" cy="478.6" r="3.5"/><circle cx="366.3" cy="477.9" r="3.5"/><circle cx="366.7" cy="476.9" r="3.5"/><circle cx="367" cy="475.6" r="3.5"/><circle cx="367.4" cy="474.1" r="3.5"/><circle cx="367.7" cy="472.9" r="3.5"/><circle cx="368.1" cy="470.9" r="3.5"/><circle cx="368.5" cy="467" r="3.5"/><circle cx="368.8" cy="466" r="3.5"/><circle cx="369.2" cy="461.5" r="3.5"/><circle cx="369.4" cy="459.6" r="3.5"/><circle cx="369.5" cy="460.3" r="3.5"/><circle cx="369.9" cy="464.4" r="3.5"/><circle cx="370.3" cy="467.4" r="3.5"/><circle cx="370.6" cy="470" r="3.5"/><circle cx="371" cy="472.6" r="3.5"/><circle cx="371.3" cy="474.5" r="3.5"/><circle cx="371.7" cy="475.4" r="3.5"/><circle cx="372.1" cy="477.3" r="3.5"/><circle cx="372.4" cy="478.9" r="3.5"/><circle cx="372.8" cy="479.9" r="3.5"/><circle cx="373.1" cy="480.4" r="3.5"/><circle cx="373.5" cy="481.2" r="3.5"/><circle cx="373.9" cy="481.9" r="3.5"/><circle cx="374.2" cy="482" r="3.5"/><circle cx="374.6" cy="482.5" r="3.5"/><circle cx="374.9" cy="484.2" r="3.5"/><circle cx="375.3" cy="483.6" r="3.5"/><circle cx="375.7" cy="484.2" r="3.5"/><circle cx="376" cy="484.1" r="3.5"/><circle cx="376.4" cy="485.2" r="3.5"/><circle cx="376.7" cy="485.6" r="3.5"/><circle cx="377.1" cy="484.9" r="3.5"/><circle cx="377.5" cy="485.4" r="3.5"/><circle cx="377.8" cy="484.9" r="3.5"/><circle cx="378.2" cy="486.1" r="3.5"/><circle cx="378.5" cy="485.8" r="3.5"/><circle cx="378.9" cy="485.1" r="3.5"/><circle cx="379.3" cy="486" r="3.5"/><circle cx="379.6" cy="485.7" r="3.5"/><circle cx="380" cy="485.7" r="3.5"/><circle cx="380.3" cy="485.6" r="3.5"/><circle cx="380.7" cy="485" r="3.5"/><circle cx="381.1" cy="485" r="3.5"/><circle cx="381.4" cy="485.4" r="3.5"/><circle cx="381.8" cy="484.9" r="3.5"/><circle cx="382.1" cy="484.3" r="3.5"/><circle cx="382.5" cy="485.5" r="3.5"/><circle cx="382.9" cy="484.2" r="3.5"/><circle cx="383.2" cy="483.8" r="3.5"/><circle cx="383.6" cy="483.5" r="3.5"/><circle cx="383.9" cy="483.8" r="3.5"/><circle cx="384.3" cy="483.6" r="3.5"/><circle cx="384.7" cy="483" r="3.5"/><circle cx="385" cy="482.8" r="3.5"/><circle cx="385.4" cy="481.3" r="3.5"/><circle cx="385.7" cy="481.3" r="3.5"/><circle cx="386.1" cy="480.7" r="3.5"/><circle cx="386.5" cy="480.3" r="3.5"/><circle cx="386.8" cy="479.9" r="3.5"/><circle cx="387.2" cy="478" r="3.5"/><circle cx="387.5" cy="479.4" r="3.5"/><circle cx="387.9" cy="476.7" r="3.5"/><circle cx="388.3" cy="476.2" r="3.5"/><circle cx="388.6" cy="475.2" r="3.5"/><circle cx="389" cy="473.9" r="3.5"/><circle cx="389.3" cy="472.2" r="3.5"/><circle cx="389.7" cy="469.1" r="3.5"/><circle cx="390.1" cy="468.1" r="3.5"/><circle cx="390.4" cy="466.9" r="3.5"/><circle cx="390.8" cy="463.9" r="3.5"/><circle cx="391.1" cy="461.2" r="3.5"/><circle cx="391.5" cy="457.8" r="3.5"/><circle cx="391.9" cy="456.2" r="3.5"/><circle cx="392.2" cy="452.3" r="3.5"/><circle cx="392.6" cy="447.7" r="3.5"/><circle cx="392.9" cy="443.6" r="3.5"/><circle cx="393.3" cy="438.6" r="3.5"/><circle cx="393.7" cy="432.5" r="3.5"/><circle cx="394" cy="426.6" r="3.5"/><circle cx="394.4" cy="419.9" r="3.5"/><circle cx="394.7" cy="412.2" r="3.5"/><circle cx="395.2" cy="401.1" r="3.5"/><circle cx="395.5" cy="407.1" r="3.5"/><circle cx="395.8" cy="415" r="3.5"/><circle cx="396.2" cy="422.7" r="3.5"/><circle cx="396.5" cy="428.8" r="3.5"/><circle cx="396.9" cy="434.3" r="3.5"/><circle cx="397.3" cy="440.5" r="3.5"/><circle cx="397.6" cy="444.4" r="3.5"/><circle cx="398" cy="448.6" r="3.5"/><circle cx="398.3" cy="452.4" r="3.5"/><circle cx="398.7" cy="454.7" r="3.5"/><circle cx="399.1" cy="458.2" r="3.5"/><circle cx="399.4" cy="460.4" r="3.5"/><circle cx="399.8" cy="462.1" r="3.5"/><circle cx="400.1" cy="463.9" r="3.5"/><circle cx="400.5" cy="464.6" r="3.5"/><circle cx="400.9" cy="464.9" r="3.5"/><circle cx="401.2" cy="466.5" r="3.5"/><circle cx="401.6" cy="466.6" r="3.5"/><circle cx="401.9" cy="467.6" r="3.5"/><circle cx="402.3" cy="467.4" r="3.5"/><circle cx="402.7" cy="467.1" r="3.5"/><circle cx="403" cy="467.4" r="3.5"/><circle cx="403.4" cy="468.2" r="3.5"/><circle cx="403.7" cy="468.5" r="3.5"/><circle cx="404.1" cy="468.8" r="3.5"/><circle cx="404.5" cy="469.7" r="3.5"/><circle cx="404.8" cy="470.5" r="3.5"/><circle cx="405.2" cy="471.8" r="3.5"/><circle cx="405.5" cy="473.4" r="3.5"/><circle cx="405.9" cy="474.3" r="3.5"/><circle cx="406.3" cy="475.6" r="3.5"/><circle cx="406.6" cy="476" r="3.5"/><circle cx="407" cy="476.7" r="3.5"/><circle cx="407.3" cy="477.4" r="3.5"/><circle cx="407.7" cy="478.6" r="3.5"/><circle cx="408.1" cy="479.9" r="3.5"/><circle cx="408.4" cy="480.3" r="3.5"/><circle cx="408.8" cy="479.6" r="3.5"/><circle cx="409.1" cy="479.6" r="3.5"/><circle cx="409.5" cy="480.8" r="3.5"/><circle cx="409.9" cy="480.7" r="3.5"/><circle cx="410.2" cy="479.9" r="3.5"/><circle cx="410.6" cy="481" r="3.5"/><circle cx="410.9" cy="480.6" r="3.5"/><circle cx="411.3" cy="481" r="3.5"/><circle cx="411.7" cy="480.5" r="3.5"/><circle cx="412" cy="480.7" r="3.5"/><circle cx="412.4" cy="480.3" r="3.5"/><circle cx="412.7" cy="479.6" r="3.5"/><circle cx="413.1" cy="479.7" r="3.5"/><circle cx="413.5" cy="479.3" r="3.5"/><circle cx="413.8" cy="479.7" r="3.5"/><circle cx="414.2" cy="478.5" r="3.5"/><circle cx="414.5" cy="477.9" r="3.5"/><circle cx="414.9" cy="478.4" r="3.5"/><circle cx="415.3" cy="478.1" r="3.5"/><circle cx="415.6" cy="477.6" r="3.5"/><circle cx="416" cy="476.7" r="3.5"/><circle cx="416.3" cy="474.6" r="3.5"/><circle cx="416.7" cy="474" r="3.5"/><circle cx="417.1" cy="472.9" r="3.5"/><circle cx="417.4" cy="471.9" r="3.5"/><circle cx="417.8" cy="469.5" r="3.5"/><circle cx="418.1" cy="468.7" r="3.5"/><circle cx="418.5" cy="466.9" r="3.5"/><circle cx="418.9" cy="464.2" r="3.5"/><circle cx="419.1" cy="463.1" r="3.5"/><circle cx="419.6" cy="466.8" r="3.5"/><circle cx="419.9" cy="468.5" r="3.5"/><circle cx="420.3" cy="470.8" r="3.5"/><circle cx="420.7" cy="472.5" r="3.5"/><circle cx="421" cy="473.7" r="3.5"/><circle cx="421.4" cy="475.1" r="3.5"/><circle cx="421.7" cy="475.9" r="3.5"/><circle cx="422.1" cy="477.7" r="3.5"/><circle cx="422.5" cy="477.8" r="3.5"/><circle cx="422.8" cy="478.6" r="3.5"/><circle cx="423.2" cy="479.9" r="3.5"/><circle cx="423.5" cy="479.9" r="3.5"/><circle cx="423.9" cy="481" r="3.5"/><circle cx="424.3" cy="481.9" r="3.5"/><circle cx="424.6" cy="481.9" r="3.5"/><circle cx="425" cy="482.3" r="3.5"/><circle cx="425.3" cy="483.1" r="3.5"/><circle cx="425.7" cy="483.3" r="3.5"/><circle cx="426.1" cy="482.6" r="3.5"/><circle cx="426.4" cy="483" r="3.5"/><circle cx="426.8" cy="484.4" r="3.5"/><circle cx="427.1" cy="484.2" r="3.5"/><circle cx="427.5" cy="483.3" r="3.5"/><circle cx="427.9" cy="483.8" r="3.5"/><circle cx="428.2" cy="484.6" r="3.5"/><circle cx="428.6" cy="484.3" r="3.5"/><circle cx="428.9" cy="485.1" r="3.5"/><circle cx="429.3" cy="485" r="3.5"/><circle cx="429.7" cy="485.3" r="3.5"/><circle cx="430" cy="484.7" r="3.5"/><circle cx="430.4" cy="485.6" r="3.5"/><circle cx="430.7" cy="486.2" r="3.5"/><circle cx="431.1" cy="485.1" r="3.5"/><circle cx="431.5" cy="486" r="3.5"/><circle cx="431.8" cy="485.8" r="3.5"/><circle cx="432.2" cy="485.7" r="3.5"/><circle cx="432.5" cy="485.3" r="3.5"/><circle cx="432.9" cy="484.8" r="3.5"/><circle cx="433.3" cy="484.8" r="3.5"/><circle cx="433.6" cy="485.5" r="3.5"/><circle cx="434" cy="485.5" r="3.5"/><circle cx="434.3" cy="485.5" r="3.5"/><circle cx="434.7" cy="485.3" r="3.5"/><circle cx="435.1" cy="485.1" r="3.5"/><circle cx="435.4" cy="484.3" r="3.5"/><circle cx="435.8" cy="483.8" r="3.5"/><circle cx="436.1" cy="484.2" r="3.5"/><circle cx="436.5" cy="484.1" r="3.5"/><circle cx="436.9" cy="483.6" r="3.5"/><circle cx="437.2" cy="482.5" r="3.5"/><circle cx="437.6" cy="482.6" r="3.5"/><circle cx="437.9" cy="481.7" r="3.5"/><circle cx="438.3" cy="481.9" r="3.5"/><circle cx="438.7" cy="480.8" r="3.5"/><circle cx="439" cy="480.6" r="3.5"/><circle cx="439.4" cy="480.1" r="3.5"/><circle cx="439.7" cy="479.2" r="3.5"/><circle cx="440.1" cy="478.8" r="3.5"/><circle cx="440.5" cy="476.6" r="3.5"/><circle cx="440.8" cy="474.9" r="3.5"/><circle cx="441.2" cy="474.9" r="3.5"/><circle cx="441.5" cy="473.6" r="3.5"/><circle cx="441.9" cy="471.8" r="3.5"/><circle cx="442.3" cy="469.3" r="3.5"/><circle cx="442.6" cy="467.3" r="3.5"/><circle cx="443" cy="469.4" r="3.5"/><circle cx="443.3" cy="470.8" r="3.5"/><circle cx="443.7" cy="472.9" r="3.5"/><circle cx="444.1" cy="474.9" r="3.5"/><circle cx="444.4" cy="475.8" r="3.5"/><circle cx="444.8" cy="478.1" r="3.5"/><circle cx="445.1" cy="477.6" r="3.5"/><circle cx="445.5" cy="479" r="3.5"/><circle cx="445.9" cy="480.5" r="3.5"/><circle cx="446.2" cy="480.5" r="3.5"/><circle cx="446.6" cy="480.9" r="3.5"/><circle cx="446.9" cy="481.4" r="3.5"/><circle cx="447.3" cy="482.1" r="3.5"/><circle cx="447.7" cy="483.6" r="3.5"/><circle cx="448" cy="483.5" r="3.5"/><circle cx="448.4" cy="483.8" r="3.5"/><circle cx="448.7" cy="483.7" r="3.5"/><circle cx="449.1" cy="484.5" r="3.5"/><circle cx="449.5" cy="484.4" r="3.5"/><circle cx="449.8" cy="484.1" r="3.5"/><circle cx="450.2" cy="484.5" r="3.5"/><circle cx="450.5" cy="484.9" r="3.5"/><circle cx="450.9" cy="485.4" r="3.5"/><circle cx="451.3" cy="485" r="3.5"/><circle cx="451.6" cy="485.3" r="3.5"/><circle cx="452" cy="486" r="3.5"/><circle cx="452.3" cy="484.7" r="3.5"/><circle cx="452.7" cy="484.5" r="3.5"/><circle cx="453.1" cy="485.5" r="3.5"/><circle cx="453.4" cy="485.3" r="3.5"/><circle cx="453.8" cy="485" r="3.5"/><circle cx="454.1" cy="485.1" r="3.5"/><circle cx="454.5" cy="484.7" r="3.5"/><circle cx="454.9" cy="485" r="3.5"/><circle cx="455.2" cy="484.5" r="3.5"/><circle cx="455.6" cy="484.9" r="3.5"/><circle cx="455.9" cy="483.9" r="3.5"/><circle cx="456.3" cy="483.9" r="3.5"/><circle cx="456.7" cy="484.1" r="3.5"/><circle cx="457" cy="483.7" r="3.5"/><circle cx="457.4" cy="483.9" r="3.5"/><circle cx="457.7" cy="483.3" r="3.5"/><circle cx="458.1" cy="482.8" r="3.5"/><circle cx="458.5" cy="482.7" r="3.5"/><circle cx="458.8" cy="481.9" r="3.5"/><circle cx="459.2" cy="480.9" r="3.5"/><circle cx="459.5" cy="480.5" r="3.5"/><circle cx="459.9" cy="479.9" r="3.5"/><circle cx="460.3" cy="479.2" r="3.5"/><circle cx="460.6" cy="478.4" r="3.5"/><circle cx="461" cy="477.6" r="3.5"/><circle cx="461.3" cy="476" r="3.5"/><circle cx="461.7" cy="474.9" r="3.5"/><circle cx="462.1" cy="472.9" r="3.5"/><circle cx="462.4" cy="470.2" r="3.5"/><circle cx="462.8" cy="469" r="3.5"/><circle cx="463.1" cy="467" r="3.5"/><circle cx="463.5" cy="465" r="3.5"/><circle cx="463.9" cy="464.8" r="3.5"/><circle cx="464.2" cy="465.4" r="3.5"/><circle cx="464.6" cy="466.2" r="3.5"/><circle cx="464.9" cy="468.2" r="3.5"/><circle cx="465.3" cy="469.8" r="3.5"/><circle cx="465.7" cy="471.9" r="3.5"/><circle cx="466" cy="473.3" r="3.5"/><circle cx="466.4" cy="475.3" r="3.5"/><circle cx="466.7" cy="476.3" r="3.5"/><circle cx="467.1" cy="478" r="3.5"/><circle cx="467.5" cy="477.9" r="3.5"/><circle cx="467.8" cy="479.7" r="3.5"/><circle cx="468.2" cy="480.8" r="3.5"/><circle cx="468.5" cy="481.1" r="3.5"/><circle cx="468.9" cy="481.3" r="3.5"/><circle cx="469.3" cy="481.9" r="3.5"/><circle cx="469.6" cy="481.6" r="3.5"/><circle cx="470" cy="481.9" r="3.5"/><circle cx="470.3" cy="482.3" r="3.5"/><circle cx="470.7" cy="482.5" r="3.5"/><circle cx="471.1" cy="483.2" r="3.5"/><circle cx="471.4" cy="482.4" r="3.5"/><circle cx="471.8" cy="483.3" r="3.5"/><circle cx="472.1" cy="482.1" r="3.5"/><circle cx="472.5" cy="482.5" r="3.5"/><circle cx="472.9" cy="482.8" r="3.5"/><circle cx="473.2" cy="483.2" r="3.5"/><circle cx="473.6" cy="482.3" r="3.5"/><circle cx="473.9" cy="481.5" r="3.5"/><circle cx="474.3" cy="482.4" r="3.5"/><circle cx="474.7" cy="482" r="3.5"/><circle cx="475" cy="481.3" r="3.5"/><circle cx="475.4" cy="481" r="3.5"/><circle cx="475.7" cy="480.8" r="3.5"/><circle cx="476.1" cy="480.8" r="3.5"/><circle cx="476.5" cy="480.6" r="3.5"/><circle cx="476.8" cy="479.1" r="3.5"/><circle cx="477.2" cy="480.2" r="3.5"/><circle cx="477.5" cy="478.5" r="3.5"/><circle cx="477.9" cy="477.6" r="3.5"/><circle cx="478.3" cy="477.3" r="3.5"/><circle cx="478.6" cy="476.2" r="3.5"/><circle cx="479" cy="476.1" r="3.5"/><circle cx="479.3" cy="474.5" r="3.5"/><circle cx="479.7" cy="472.5" r="3.5"/><circle cx="480.1" cy="471.1" r="3.5"/><circle cx="480.4" cy="469.5" r="3.5"/><circle cx="480.8" cy="467.8" r="3.5"/><circle cx="481.1" cy="466.3" r="3.5"/><circle cx="481.5" cy="463.5" r="3.5"/><circle cx="481.9" cy="462.1" r="3.5"/><circle cx="482.2" cy="458.6" r="3.5"/><circle cx="482.6" cy="455.6" r="3.5"/><circle cx="482.9" cy="452.7" r="3.5"/><circle cx="483.3" cy="447.6" r="3.5"/><circle cx="483.7" cy="443.9" r="3.5"/><circle cx="484" cy="439.9" r="3.5"/><circle cx="484.4" cy="434.4" r="3.5"/><circle cx="484.7" cy="428.6" r="3.5"/><circle cx="485.1" cy="422.3" r="3.5"/><circle cx="485.5" cy="413.7" r="3.5"/><circle cx="485.8" cy="420.5" r="3.5"/><circle cx="486.2" cy="426.5" r="3.5"/><circle cx="486.5" cy="432.2" r="3.5"/><circle cx="486.9" cy="439" r="3.5"/><circle cx="487.3" cy="442.7" r="3.5"/><circle cx="487.6" cy="447.1" r="3.5"/><circle cx="488" cy="451.9" r="3.5"/><circle cx="488.3" cy="455.2" r="3.5"/><circle cx="488.7" cy="457.5" r="3.5"/><circle cx="489.1" cy="460.3" r="3.5"/><circle cx="489.4" cy="462.9" r="3.5"/><circle cx="489.8" cy="464.7" r="3.5"/><circle cx="490.1" cy="467.4" r="3.5"/><circle cx="490.5" cy="469" r="3.5"/><circle cx="490.9" cy="470.5" r="3.5"/><circle cx="491.2" cy="472.2" r="3.5"/><circle cx="491.6" cy="473.4" r="3.5"/><circle cx="491.9" cy="475" r="3.5"/><circle cx="492.3" cy="475.7" r="3.5"/><circle cx="492.7" cy="475.1" r="3.5"/><circle cx="493" cy="476.9" r="3.5"/><circle cx="493.4" cy="476.5" r="3.5"/><circle cx="493.7" cy="476.8" r="3.5"/><circle cx="494.1" cy="478" r="3.5"/><circle cx="494.5" cy="477.5" r="3.5"/><circle cx="494.8" cy="477.7" r="3.5"/><circle cx="495.2" cy="478.2" r="3.5"/><circle cx="495.5" cy="477.3" r="3.5"/><circle cx="495.9" cy="476.9" r="3.5"/><circle cx="496.3" cy="477.2" r="3.5"/><circle cx="496.6" cy="477.4" r="3.5"/><circle cx="497" cy="477" r="3.5"/><circle cx="497.3" cy="476.1" r="3.5"/><circle cx="497.7" cy="476.7" r="3.5"/><circle cx="498.1" cy="477.3" r="3.5"/><circle cx="498.4" cy="478.8" r="3.5"/><circle cx="498.8" cy="478.9" r="3.5"/><circle cx="499.1" cy="479.6" r="3.5"/><circle cx="499.5" cy="480.4" r="3.5"/><circle cx="499.9" cy="480.4" r="3.5"/><circle cx="500.2" cy="481.3" r="3.5"/><circle cx="500.6" cy="481.9" r="3.5"/><circle cx="500.9" cy="481.7" r="3.5"/><circle cx="501.3" cy="482.5" r="3.5"/><circle cx="501.7" cy="483.1" r="3.5"/><circle cx="502" cy="482.6" r="3.5"/><circle cx="502.4" cy="483.6" r="3.5"/><circle cx="502.7" cy="483.8" r="3.5"/><circle cx="503.1" cy="484.1" r="3.5"/><circle cx="503.5" cy="483.3" r="3.5"/><circle cx="503.8" cy="483.8" r="3.5"/><circle cx="504.2" cy="484.5" r="3.5"/><circle cx="504.5" cy="484.3" r="3.5"/><circle cx="504.9" cy="483.6" r="3.5"/><circle cx="505.3" cy="484.1" r="3.5"/><circle cx="505.6" cy="484.6" r="3.5"/><circle cx="506" cy="484" r="3.5"/><circle cx="506.3" cy="484.2" r="3.5"/><circle cx="506.7" cy="485.2" r="3.5"/><circle cx="507.1" cy="484.1" r="3.5"/><circle cx="507.4" cy="484.1" r="3.5"/><circle cx="507.8" cy="483.7" r="3.5"/><circle cx="508.1" cy="483.8" r="3.5"/><circle cx="508.5" cy="484.8" r="3.5"/><circle cx="508.9" cy="484.1" r="3.5"/><circle cx="509.2" cy="483.6" r="3.5"/><circle cx="509.6" cy="483.7" r="3.5"/><circle cx="509.9" cy="484.1" r="3.5"/><circle cx="510.3" cy="484.5" r="3.5"/><circle cx="510.7" cy="483.8" r="3.5"/><circle cx="511" cy="484.5" r="3.5"/><circle cx="511.4" cy="483.9" r="3.5"/><circle cx="511.7" cy="484.3" r="3.5"/><circle cx="512.1" cy="484.4" r="3.5"/><circle cx="512.5" cy="484.4" r="3.5"/><circle cx="512.8" cy="483.9" r="3.5"/><circle cx="513.2" cy="484" r="3.5"/><circle cx="513.5" cy="484.3" r="3.5"/><circle cx="513.9" cy="483.5" r="3.5"/><circle cx="514.3" cy="484.2" r="3.5"/><circle cx="514.6" cy="484.3" r="3.5"/><circle cx="515" cy="484.6" r="3.5"/><circle cx="515.3" cy="484.1" r="3.5"/><circle cx="515.7" cy="484" r="3.5"/><circle cx="516.1" cy="484.1" r="3.5"/><circle cx="516.4" cy="483.7" r="3.5"/><circle cx="516.8" cy="484" r="3.5"/><circle cx="517.1" cy="484.2" r="3.5"/><circle cx="517.5" cy="484.2" r="3.5"/><circle cx="517.9" cy="483.6" r="3.5"/><circle cx="518.2" cy="483.9" r="3.5"/></g>
<path d="M30.6,488 L30.9,488 L31.1,488 L31.4,488 L31.6,488 L31.9,488 L32.1,488 L32.4,488 L32.6,488 L32.9,488 L33.1,488 L33.4,488 L33.6,488 L33.9,488 L34.1,488 L34.4,488 L34.6,488 L34.9,488 L35.1,488 L35.4,488 L35.6,488 L35.9,488 L36.1,488 L36.4,488 L36.6,488 L36.9,488 L37.1,488 L37.4,488 L37.6,488 L37.9,488 L38.1,488 L38.4,488 L38.6,488 L38.9,488 L39.1,488 L39.4,488 L39.6,488 L39.9,488 L40.1,488 L40.4,487.9 L40.6,487.9 L40.9,487.8 L41.1,487.8 L41.4,487.7 L41.6,487.7 L41.9,487.6 L42.1,487.6 L42.4,487.5 L42.6,487.4 L42.9,487.4 L43.1,487.3 L43.4,487.3 L43.6,487.2 L43.9,487.2 L44.1,487.1 L44.4,487.1 L44.6,487 L44.9,487 L45.1,486.9 L45.4,486.9 L45.6,486.8 L45.9,486.7 L46.1,486.7 L46.4,486.6 L46.6,486.6 L46.9,486.5 L47.1,486.5 L47.4,486.5 L47.6,486.4 L47.9,486.4 L48.1,486.4 L48.4,486.4 L48.6,486.4 L48.9,486.3 L49.1,486.3 L49.4,486.3 L49.6,486.3 L49.9,486.2 L50.1,486.2 L50.4,486.2 L50.6,486.2 L50.9,486.1 L51.1,486.1 L51.4,486.1 L51.6,486.1 L51.9,486 L52.1,486 L52.4,486 L52.6,485.9 L52.9,485.9 L53.1,485.9 L53.4,485.8 L53.6,485.8 L53.9,485.7 L54.1,485.6 L54.4,485.6 L54.6,485.5 L54.9,485.3 L55.1,485.2 L55.4,485 L55.6,484.8 L55.9,484.5 L56.1,484.2 L56.4,483.8 L56.6,483.3 L56.9,482.7 L57.1,482 L57.4,481.1 L57.6,480 L57.9,478.7 L58.1,477.1 L58.4,475.1 L58.6,472.6 L58.9,469.7 L59.1,466 L59.4,461.6 L59.6,456.1 L59.9,449.4 L60.1,441.2 L60.4,431.1 L60.6,418.8 L60.9,403.6 L61.1,385.1 L61.3,367.3 L61.4,372 L61.6,392.7 L61.9,409.6 L62.1,423.2 L62.4,434.3 L62.6,443.2 L62.9,450.4 L63.1,456.1 L63.4,460.6 L63.6,464.1 L63.9,466.7 L64.1,468.6 L64.3,469.9 L64.6,470.8 L64.8,471.3 L65.1,471.5 L65.3,471.5 L65.6,471.5 L65.8,471.5 L66.1,471.6 L66.3,471.8 L66.3,471.9 L66.6,472.5 L66.8,473.3 L67.1,474.2 L67.3,475.3 L67.6,476.4 L67.8,477.5 L68.1,478.6 L68.3,479.6 L68.6,480.5 L68.8,481.3 L69.1,482 L69.3,482.6 L69.6,483.1 L69.8,483.5 L70.1,483.8 L70.3,484.1 L70.6,484.3 L70.8,484.5 L71.1,484.6 L71.3,484.7 L71.6,484.8 L71.8,484.9 L72.1,484.9 L72.3,485 L72.6,485 L72.8,485 L73.1,485.1 L73.3,485.1 L73.6,485.1 L73.8,485.1 L74.1,485.1 L74.3,485.1 L74.6,485.1 L74.8,485.1 L75.1,485.1 L75.3,485.1 L75.6,485.1 L75.8,485.1 L76.1,485.1 L76.3,485.1 L76.6,485.1 L76.8,485.1 L77.1,485 L77.3,485 L77.6,485 L77.8,484.9 L78.1,484.8 L78.3,484.7 L78.6,484.6 L78.8,484.5 L79.1,484.4 L79.3,484.3 L79.6,484.2 L79.8,484.1 L80.1,483.9 L80.3,483.8 L80.6,483.7 L80.8,483.6 L81.1,483.4 L81.3,483.3 L81.6,483.2 L81.8,483 L82.1,482.9 L82.3,482.7 L82.6,482.5 L82.8,482.4 L83.1,482.2 L83.3,482 L83.6,481.8 L83.8,481.6 L84.1,481.4 L84.3,481.1 L84.6,480.9 L84.8,480.6 L85.1,480.2 L85.3,479.8 L85.6,479.4 L85.8,478.9 L86.1,478.3 L86.3,477.6 L86.6,476.8 L86.8,475.9 L87.1,474.8 L87.3,473.6 L87.6,472.2 L87.8,470.7 L88.1,469 L88.3,467.1 L88.6,465 L88.8,462.8 L89.1,460.5 L89.3,458.1 L89.6,455.7 L89.8,453.3 L90.1,451.1 L90.3,449.1 L90.6,447.4 L90.8,446.3 L91.1,445.6 L91.2,445.5 L91.3,445.5 L91.6,446 L91.8,447.1 L92.1,448.5 L92.3,450.3 L92.6,452.3 L92.8,454.4 L93.1,456.5 L93.3,458.6 L93.6,460.5 L93.8,462.4 L94.1,464 L94.3,465.5 L94.6,466.8 L94.8,467.8 L95.1,468.7 L95.3,469.3 L95.6,469.7 L95.8,470 L96.1,470 L96.3,469.9 L96.6,469.7 L96.8,469.3 L97.1,468.7 L97.3,467.8 L97.6,466.8 L97.8,465.6 L98.1,464 L98.3,462.2 L98.6,460.1 L98.8,457.6 L99.1,454.7 L99.3,451.4 L99.6,447.5 L99.8,442.9 L100.1,437.7 L100.3,431.6 L100.6,424.5 L100.8,416.4 L101.1,406.9 L101.3,396 L101.6,383.4 L101.8,368.9 L102.1,352 L102.3,332.6 L102.5,319.5 L102.6,328.3 L102.8,348.3 L103.1,365.6 L103.3,380.6 L103.6,393.5 L103.8,404.7 L104.1,414.3 L104.3,422.7 L104.6,429.9 L104.8,436.1 L105.1,441.4 L105.3,446 L105.6,450 L105.8,453.3 L106.1,456.2 L106.3,458.6 L106.6,460.6 L106.8,462.2 L107.1,463.5 L107.3,464.5 L107.6,465.2 L107.8,465.8 L108.1,466 L108.3,466.2 L108.6,466.1 L108.8,466 L109.1,465.8 L109.3,465.7 L109.6,465.6 L109.8,465.6 L110,465.7 L110.1,465.7 L110.3,466.1 L110.6,466.5 L110.8,467.1 L111.1,467.7 L111.3,468.4 L111.6,469 L111.8,469.5 L112.1,470 L112.3,470.5 L112.6,470.8 L112.8,471.1 L113.1,471.3 L113.3,471.3 L113.6,471.4 L113.8,471.3 L114.1,471.2 L114.3,471 L114.6,470.8 L114.8,470.5 L115.1,470.2 L115.3,469.9 L115.6,469.5 L115.8,469 L116.1,468.5 L116.3,467.9 L116.6,467.3 L116.8,466.7 L117.1,465.9 L117.3,465.1 L117.6,464.2 L117.8,463.2 L118.1,462.1 L118.3,460.8 L118.6,459.5 L118.8,457.9 L119.1,456 L119.3,453.9 L119.6,451.3 L119.8,448.3 L120.1,444.6 L120.3,440 L120.6,434.3 L120.8,427.2 L121.1,418.4 L121.3,407.5 L121.6,394.2 L121.8,377.9 L122.1,358.4 L122.3,335.5 L122.6,308.9 L122.8,278.7 L123.1,245.2 L123.3,208.9 L123.6,170.7 L123.8,131.9 L124.1,94.6 L124.3,61 L124.6,34 L124.8,16.3 L125.1,10.1 L125.3,16.3 L125.6,33.9 L125.8,60.9 L126.1,94.5 L126.3,131.8 L126.6,170.5 L126.8,208.6 L127.1,244.9 L127.3,278.4 L127.6,308.5 L127.8,335.1 L128.1,357.9 L128.3,377.3 L128.6,393.4 L128.8,406.7 L129.1,417.4 L129.3,426 L129.6,432.8 L129.8,438.1 L130.1,442.2 L130.3,445.4 L130.6,447.7 L130.8,449.4 L131.1,450.5 L131.3,451.1 L131.6,451.3 L131.8,451 L132.1,450.4 L132.3,449.4 L132.6,448.2 L132.8,446.9 L133.1,445.5 L133.3,444.2 L133.6,443.1 L133.8,442.5 L134.1,442.5 L134.2,442.6 L134.3,443.1 L134.6,444.4 L134.8,446.4 L135.1,448.7 L135.3,451.3 L135.6,454 L135.8,456.7 L136.1,459.2 L136.3,461.6 L136.6,463.8 L136.8,465.8 L137.1,467.6 L137.3,469.1 L137.6,470.4 L137.8,471.5 L138.1,472.4 L138.3,473.2 L138.6,473.8 L138.8,474.4 L139.1,474.9 L139.3,475.3 L139.6,475.7 L139.8,476 L140.1,476.3 L140.3,476.6 L140.6,476.8 L140.8,477 L141.1,477.3 L141.3,477.4 L141.6,477.6 L141.8,477.8 L142.1,478 L142.3,478.1 L142.6,478.3 L142.8,478.4 L143.1,478.5 L143.3,478.7 L143.6,478.8 L143.8,478.9 L144.1,479 L144.3,479.1 L144.6,479.1 L144.8,479.2 L145.1,479.3 L145.3,479.4 L145.6,479.5 L145.8,479.5 L146.1,479.6 L146.3,479.7 L146.6,479.7 L146.8,479.8 L147.1,479.8 L147.3,479.9 L147.6,479.9 L147.8,480 L148.1,480 L148.3,480.1 L148.6,480.1 L148.8,480.2 L149.1,480.2 L149.3,480.3 L149.6,480.3 L149.8,480.3 L150.1,480.4 L150.3,480.4 L150.6,480.4 L150.8,480.5 L151.1,480.5 L151.3,480.5 L151.6,480.6 L151.8,480.6 L152.1,480.6 L152.3,480.7 L152.6,480.7 L152.8,480.7 L153.1,480.7 L153.3,480.8 L153.6,480.8 L153.8,480.8 L154.1,480.8 L154.3,480.9 L154.6,480.9 L154.8,480.9 L155.1,480.9 L155.3,481 L155.6,481 L155.8,481 L156.1,481 L156.3,481.1 L156.6,481.1 L156.8,481.1 L157.1,481.1 L157.3,481.1 L157.6,481.2 L157.8,481.2 L158.1,481.2 L158.3,481.2 L158.6,481.2 L158.8,481.3 L159.1,481.3 L159.3,481.3 L159.6,481.3 L159.8,481.3 L160.1,481.3 L160.3,481.3 L160.6,481.4 L160.8,481.4 L161.1,481.4 L161.3,481.4 L161.6,481.4 L161.8,481.4 L162.1,481.4 L162.3,481.5 L162.6,481.5 L162.8,481.5 L163.1,481.5 L163.3,481.5 L163.6,481.5 L163.8,481.5 L164.1,481.5 L164.3,481.5 L164.6,481.5 L164.8,481.5 L165.1,481.5 L165.3,481.4 L165.6,481.4 L165.8,481.4 L166.1,481.3 L166.3,481.3 L166.6,481.2 L166.8,481.2 L167.1,481.1 L167.3,481 L167.6,480.9 L167.8,480.8 L168.1,480.6 L168.3,480.5 L168.6,480.3 L168.8,480.1 L169.1,479.8 L169.3,479.5 L169.6,479.2 L169.8,478.8 L170.1,478.3 L170.3,477.8 L170.6,477.2 L170.8,476.4 L171.1,475.6 L171.3,474.5 L171.6,473.4 L171.8,472 L172.1,470.4 L172.3,468.5 L172.6,466.3 L172.8,463.7 L173.1,460.6 L173.3,457.1 L173.6,452.9 L173.8,448.1 L173.9,447 L174.1,451.1 L174.3,455.5 L174.6,459.2 L174.8,462.4 L175.1,465.2 L175.3,467.5 L175.6,469.5 L175.8,471.2 L176.1,472.6 L176.3,473.9 L176.6,474.9 L176.8,475.8 L177.1,476.6 L177.3,477.2 L177.6,477.8 L177.8,478.3 L178.1,478.7 L178.3,479 L178.6,479.3 L178.8,479.6 L179.1,479.8 L179.3,480 L179.6,480.1 L179.8,480.3 L180.1,480.4 L180.3,480.4 L180.6,480.4 L180.8,480.4 L181.1,480.4 L181.3,480.4 L181.6,480.3 L181.8,480.1 L182.1,479.9 L182.3,479.7 L182.6,479.5 L182.8,479.2 L183.1,478.9 L183.3,478.6 L183.6,478.4 L183.8,478.1 L184.1,477.9 L184.3,477.8 L184.6,477.8 L184.8,477.8 L185.1,478 L185.3,478.3 L185.6,478.6 L185.8,478.9 L186.1,479.3 L186.3,479.6 L186.6,479.9 L186.8,480.2 L187.1,480.5 L187.3,480.8 L187.6,481 L187.8,481.2 L188.1,481.3 L188.3,481.5 L188.6,481.6 L188.8,481.7 L189.1,481.7 L189.3,481.8 L189.6,481.9 L189.8,481.9 L190.1,482 L190.3,482 L190.6,482 L190.8,482.1 L191.1,482.1 L191.3,482.1 L191.6,482.2 L191.8,482.2 L192.1,482.2 L192.3,482.2 L192.6,482.3 L192.8,482.3 L193.1,482.3 L193.3,482.4 L193.6,482.4 L193.8,482.4 L194.1,482.5 L194.3,482.5 L194.6,482.5 L194.8,482.6 L195.1,482.6 L195.3,482.6 L195.6,482.7 L195.8,482.7 L196.1,482.7 L196.3,482.8 L196.6,482.8 L196.8,482.8 L197.1,482.8 L197.3,482.9 L197.6,482.9 L197.8,482.9 L198.1,483 L198.3,483 L198.6,483 L198.8,483.1 L199.1,483.1 L199.3,483.1 L199.6,483.1 L199.8,483.2 L200.1,483.2 L200.3,483.2 L200.6,483.2 L200.8,483.3 L201.1,483.3 L201.3,483.3 L201.6,483.3 L201.8,483.4 L202.1,483.4 L202.3,483.4 L202.6,483.4 L202.8,483.4 L203.1,483.5 L203.3,483.5 L203.6,483.5 L203.8,483.5 L204.1,483.5 L204.3,483.5 L204.6,483.5 L204.8,483.5 L205.1,483.5 L205.3,483.4 L205.6,483.4 L205.8,483.4 L206.1,483.3 L206.3,483.2 L206.6,483.2 L206.8,483.1 L207.1,483 L207.3,483 L207.6,482.9 L207.8,482.8 L208.1,482.7 L208.3,482.5 L208.6,482.3 L208.8,482.1 L209.1,481.7 L209.3,481.3 L209.6,480.8 L209.8,480.2 L210.1,479.5 L210.3,478.7 L210.6,477.7 L210.8,476.5 L211.1,475.1 L211.3,473.4 L211.6,471.5 L211.8,469.2 L212.1,466.6 L212.3,463.4 L212.6,459.8 L212.8,455.5 L213.1,450.6 L213.3,444.8 L213.6,438 L213.8,430.2 L214.1,421 L214.3,410.4 L214.6,397.9 L214.8,383.5 L215.1,366.6 L215.3,351.2 L215.3,355.3 L215.6,373.9 L215.8,389.9 L216.1,403.6 L216.3,415.5 L216.6,425.7 L216.8,434.4 L217.1,442 L217.3,448.5 L217.6,454 L217.8,458.8 L218.1,462.9 L218.3,466.3 L218.6,469.3 L218.8,471.7 L219.1,473.5 L219.3,475 L219.6,476 L219.8,476.8 L220.1,477.2 L220.3,477.2 L220.6,476.9 L220.8,476.3 L221.1,475.3 L221.3,473.9 L221.6,472.1 L221.8,469.8 L222.1,467.2 L222.3,464.2 L222.6,460.7 L222.8,456.9 L223.1,452.9 L223.3,448.5 L223.6,444.1 L223.8,439.6 L224.1,435.2 L224.3,431.1 L224.6,427.4 L224.8,424.3 L225.1,421.9 L225.3,420.4 L225.5,420 L225.6,419.9 L225.8,420.4 L226.1,421.7 L226.3,423.8 L226.6,426.6 L226.8,429.8 L227.1,433.4 L227.3,437.1 L227.6,440.8 L227.8,444.5 L228.1,447.9 L228.3,451.2 L228.6,454.1 L228.8,456.7 L229.1,459 L229.3,461 L229.6,462.8 L229.8,464.2 L230.1,465.4 L230.3,466.4 L230.6,467.3 L230.8,468 L231,468.4 L231.1,468.6 L231.3,469.2 L231.6,469.8 L231.8,470.3 L232.1,470.8 L232.3,471.3 L232.6,471.9 L232.8,472.4 L233.1,472.9 L233.3,473.5 L233.6,474 L233.8,474.6 L234.1,475.1 L234.3,475.6 L234.6,476.2 L234.8,476.7 L235.1,477.1 L235.3,477.6 L235.6,478 L235.8,478.4 L236.1,478.8 L236.3,479.2 L236.6,479.5 L236.8,479.7 L237.1,480 L237.3,480.2 L237.6,480.4 L237.8,480.6 L238.1,480.7 L238.3,480.8 L238.6,480.9 L238.8,481 L239.1,481 L239.3,481 L239.6,481 L239.8,481 L240.1,481 L240.3,480.9 L240.6,480.9 L240.8,480.8 L241.1,480.8 L241.3,480.8 L241.6,480.8 L241.8,480.8 L242.1,480.7 L242.3,480.7 L242.6,480.6 L242.8,480.5 L243.1,480.4 L243.3,480.3 L243.6,480.1 L243.8,479.9 L244.1,479.8 L244.3,479.5 L244.6,479.3 L244.8,479 L245.1,478.7 L245.3,478.3 L245.6,477.9 L245.8,477.5 L246.1,477 L246.3,476.4 L246.6,475.8 L246.8,475.1 L247.1,474.3 L247.3,473.5 L247.6,472.5 L247.8,471.4 L248.1,470.2 L248.3,468.8 L248.6,467.3 L248.8,465.6 L249.1,463.7 L249.3,461.6 L249.6,459.3 L249.8,456.7 L250.1,453.8 L250.3,450.5 L250.6,446.9 L250.8,442.9 L251.1,438.4 L251.3,433.4 L251.4,432.3 L251.6,436.4 L251.8,441.2 L252.1,445.4 L252.3,449.2 L252.6,452.6 L252.8,455.6 L253.1,458.4 L253.3,460.8 L253.6,463 L253.8,465 L254.1,466.8 L254.3,468.4 L254.6,469.8 L254.8,471.1 L255.1,472.2 L255.3,473.2 L255.6,474.2 L255.8,475 L256.1,475.7 L256.4,476.4 L256.6,477 L256.9,477.5 L257.1,478 L257.4,478.4 L257.6,478.8 L257.9,479.2 L258.1,479.5 L258.4,479.7 L258.6,480 L258.9,480.2 L259.1,480.4 L259.4,480.6 L259.6,480.7 L259.9,480.9 L260.1,481 L260.4,481.1 L260.6,481.2 L260.9,481.3 L261.1,481.3 L261.4,481.4 L261.6,481.4 L261.9,481.5 L262.1,481.5 L262.4,481.5 L262.6,481.6 L262.9,481.6 L263.1,481.6 L263.4,481.6 L263.6,481.6 L263.9,481.6 L264.1,481.6 L264.4,481.6 L264.6,481.5 L264.9,481.5 L265.1,481.5 L265.4,481.5 L265.6,481.4 L265.9,481.4 L266.1,481.4 L266.4,481.3 L266.6,481.3 L266.9,481.3 L267.1,481.2 L267.4,481.2 L267.6,481.1 L267.9,481.1 L268.1,481 L268.4,480.9 L268.6,480.8 L268.9,480.8 L269.1,480.7 L269.4,480.6 L269.6,480.5 L269.9,480.4 L270.1,480.3 L270.4,480.2 L270.6,480 L270.9,479.9 L271.1,479.7 L271.4,479.6 L271.6,479.4 L271.9,479.2 L272.1,479 L272.4,478.8 L272.6,478.6 L272.9,478.3 L273.1,478 L273.4,477.6 L273.6,477.3 L273.9,476.8 L274.1,476.3 L274.4,475.7 L274.6,475.1 L274.9,474.3 L275.1,473.4 L275.4,472.4 L275.6,471.2 L275.9,469.9 L276.1,468.4 L276.4,466.7 L276.6,464.9 L276.9,462.8 L277.1,460.7 L277.4,458.4 L277.6,456 L277.9,453.6 L278.1,451.2 L278.4,449 L278.6,446.9 L278.9,445.1 L279,444.1 L279.1,443.5 L279.4,442.2 L279.6,441 L279.9,439.9 L280.1,438.6 L280.4,436.9 L280.6,434.7 L280.9,431.5 L281.1,427.2 L281.4,421.3 L281.6,413.4 L281.9,402.8 L282.1,389.1 L282.4,371.6 L282.6,349.9 L282.9,323.6 L283.1,292.7 L283.4,257.8 L283.6,220.6 L283.9,184.3 L284.1,154 L284.4,135.8 L284.5,132.8 L284.6,134.3 L284.9,149.8 L285.1,178.5 L285.4,214.5 L285.6,252.4 L285.9,288.5 L286.1,321 L286.4,349 L286.6,372.5 L286.9,391.8 L287.1,407.3 L287.4,419.7 L287.6,429.5 L287.9,437.3 L288.1,443.5 L288.4,448.5 L288.6,452.5 L288.9,455.9 L289.1,458.7 L289.4,461.1 L289.6,463.1 L289.9,464.9 L290.1,466.5 L290.4,467.9 L290.6,469.1 L290.9,470.2 L291.1,471.1 L291.4,472 L291.6,472.7 L291.9,473.4 L292.1,474 L292.4,474.4 L292.6,474.9 L292.9,475.1 L293.1,475.3 L293.4,475.4 L293.6,475.4 L293.9,475.3 L294.1,475.1 L294.4,474.9 L294.6,474.5 L294.9,474.1 L295.1,473.5 L295.4,472.9 L295.6,472.3 L295.9,471.6 L296.1,471 L296.4,470.4 L296.6,469.8 L296.9,469.5 L297.1,469.3 L297.3,469.3 L297.4,469.3 L297.6,469.5 L297.9,469.9 L298.1,470.5 L298.4,471.3 L298.6,472.1 L298.9,472.9 L299.1,473.8 L299.4,474.6 L299.6,475.3 L299.9,476 L300.1,476.7 L300.4,477.3 L300.6,477.8 L300.9,478.2 L301.1,478.6 L301.4,478.9 L301.6,479.1 L301.9,479.4 L302.1,479.5 L302.4,479.7 L302.6,479.8 L302.9,479.9 L303.1,479.9 L303.4,480 L303.6,480.1 L303.9,480.2 L304.1,480.3 L304.4,480.4 L304.6,480.6 L304.9,480.7 L305.1,480.8 L305.4,480.9 L305.6,481 L305.9,481.1 L306.1,481.2 L306.4,481.3 L306.6,481.4 L306.9,481.4 L307.1,481.5 L307.4,481.6 L307.6,481.7 L307.9,481.8 L308.1,481.9 L308.4,481.9 L308.6,482 L308.9,482.1 L309.1,482.2 L309.4,482.2 L309.6,482.3 L309.9,482.3 L310.1,482.3 L310.4,482.2 L310.6,482.2 L310.9,482.2 L311.1,482.1 L311.4,482.1 L311.6,482.1 L311.9,482.1 L312.1,482 L312.4,482 L312.6,482 L312.9,481.9 L313.1,481.9 L313.4,481.9 L313.6,481.8 L313.9,481.8 L314.1,481.8 L314.4,481.7 L314.6,481.7 L314.9,481.6 L315.1,481.6 L315.4,481.6 L315.6,481.5 L315.9,481.5 L316.1,481.5 L316.4,481.6 L316.6,481.6 L316.9,481.6 L317.1,481.7 L317.4,481.7 L317.6,481.8 L317.9,481.8 L318.1,481.8 L318.4,481.9 L318.6,481.9 L318.9,481.9 L319.1,482 L319.4,482 L319.6,482 L319.9,482 L320.1,482.1 L320.4,482.1 L320.6,482.1 L320.9,482.2 L321.1,482.2 L321.4,482.2 L321.6,482.3 L321.9,482.3 L322.1,482.4 L322.4,482.4 L322.6,482.5 L322.9,482.6 L323.1,482.7 L323.4,482.8 L323.6,482.8 L323.9,482.9 L324.1,483 L324.4,483.1 L324.6,483.1 L324.9,483.2 L325.1,483.3 L325.4,483.4 L325.6,483.4 L325.9,483.5 L326.1,483.6 L326.4,483.7 L326.6,483.7 L326.9,483.8 L327.1,483.9 L327.4,483.9 L327.6,484 L327.9,484.1 L328.1,484.1 L328.4,484.2 L328.6,484.3 L328.9,484.3 L329.1,484.4 L329.4,484.5 L329.6,484.5 L329.9,484.6 L330.1,484.6 L330.4,484.7 L330.6,484.7 L330.9,484.7 L331.1,484.8 L331.4,484.8 L331.6,484.8 L331.9,484.8 L332.1,484.9 L332.4,484.9 L332.6,484.8 L332.9,484.8 L333.1,484.8 L333.4,484.8 L333.6,484.7 L333.9,484.7 L334.1,484.6 L334.4,484.5 L334.6,484.3 L334.9,484.2 L335.1,484 L335.4,483.8 L335.6,483.5 L335.9,483.1 L336.1,482.6 L336.4,482.1 L336.6,481.6 L336.9,480.9 L337.1,480.3 L337.4,479.6 L337.6,478.7 L337.9,477.9 L338.1,476.9 L338.4,475.8 L338.6,474.6 L338.9,473.3 L339.1,471.8 L339.4,470.2 L339.6,468.4 L339.9,466.4 L340.1,464.2 L340.4,461.7 L340.6,459 L340.9,456 L341.1,452.6 L341.4,448.9 L341.6,444.7 L341.9,440.1 L342.1,435 L342.4,429.2 L342.6,422.9 L342.9,415.8 L343.1,407.9 L343.4,415.6 L343.6,422.5 L343.9,428.7 L344.1,434.3 L344.4,439.2 L344.6,443.7 L344.9,447.7 L345.1,451.3 L345.4,454.4 L345.6,457.3 L345.9,459.9 L346.1,462.1 L346.4,464.2 L346.6,466 L346.9,467.6 L347.1,469.1 L347.4,470.4 L347.6,471.5 L347.9,472.5 L348.1,473.4 L348.4,474.3 L348.6,475 L348.9,475.6 L349.1,476.2 L349.4,476.7 L349.6,477.1 L349.9,477.5 L350.1,477.8 L350.4,478.1 L350.6,478.3 L350.9,478.6 L351.1,478.9 L351.4,479.1 L351.6,479.4 L351.9,479.6 L352.1,479.8 L352.4,479.9 L352.6,480.1 L352.9,480.2 L353.1,480.4 L353.4,480.5 L353.6,480.6 L353.9,480.7 L354.1,480.8 L354.4,480.8 L354.6,480.9 L354.9,480.9 L355.1,481 L355.4,481 L355.6,481 L355.9,481 L356.1,481 L356.4,481 L356.6,480.9 L356.9,480.9 L357.1,480.8 L357.4,480.6 L357.6,480.5 L357.9,480.3 L358.1,480.1 L358.4,479.9 L358.6,479.6 L358.9,479.4 L359.1,479.2 L359.4,479 L359.6,478.8 L359.9,478.7 L360,478.7 L360.1,478.7 L360.4,478.7 L360.6,478.9 L360.9,479 L361.1,479.2 L361.4,479.4 L361.6,479.6 L361.9,479.8 L362.1,479.9 L362.4,480 L362.6,480.1 L362.9,480.2 L363.1,480.2 L363.4,480.1 L363.6,480 L363.9,479.9 L364.1,479.8 L364.4,479.6 L364.6,479.3 L364.9,479 L365.1,478.7 L365.4,478.3 L365.6,477.9 L365.9,477.4 L366.1,476.9 L366.4,476.3 L366.6,475.6 L366.9,474.8 L367.1,473.9 L367.4,473 L367.6,471.9 L367.9,470.6 L368.1,469.3 L368.4,467.8 L368.6,466.1 L368.9,464.2 L369.1,462.1 L369.4,459.7 L369.4,459.2 L369.6,461.2 L369.9,463.4 L370.1,465.5 L370.4,467.3 L370.6,468.9 L370.9,470.4 L371.1,471.7 L371.4,472.9 L371.6,474 L371.9,474.9 L372.1,475.8 L372.4,476.6 L372.6,477.3 L372.9,477.9 L373.1,478.5 L373.4,479 L373.6,479.4 L373.9,479.8 L374.1,480.2 L374.4,480.6 L374.6,480.8 L374.9,481.1 L375.1,481.4 L375.4,481.6 L375.6,481.8 L375.9,481.9 L376.1,482.1 L376.4,482.2 L376.6,482.4 L376.9,482.5 L377.1,482.6 L377.4,482.7 L377.6,482.7 L377.9,482.8 L378.1,482.9 L378.4,482.9 L378.6,482.9 L378.9,483 L379.1,483 L379.4,483 L379.6,483 L379.9,483 L380.1,483 L380.4,482.9 L380.6,482.8 L380.9,482.7 L381.1,482.7 L381.4,482.6 L381.6,482.4 L381.9,482.3 L382.1,482.2 L382.4,482.1 L382.6,481.9 L382.9,481.8 L383.1,481.6 L383.4,481.4 L383.6,481.2 L383.9,481 L384.1,480.8 L384.4,480.5 L384.6,480.2 L384.9,480 L385.1,479.7 L385.4,479.3 L385.6,479 L385.9,478.6 L386.1,478.2 L386.4,477.7 L386.6,477.3 L386.9,476.7 L387.1,476.2 L387.4,475.6 L387.6,474.9 L387.9,474.3 L388.1,473.5 L388.4,472.7 L388.6,471.8 L388.9,470.9 L389.1,469.9 L389.4,468.8 L389.6,467.6 L389.9,466.3 L390.1,464.9 L390.4,463.5 L390.6,461.8 L390.9,460.1 L391.1,458.2 L391.4,456.2 L391.6,454 L391.9,451.6 L392.1,449.1 L392.4,446.3 L392.6,443.3 L392.9,440.1 L393.1,436.6 L393.4,432.8 L393.6,428.7 L393.9,424.3 L394.1,419.5 L394.4,414.3 L394.6,408.8 L394.9,402.7 L395.1,396.2 L395.2,393.4 L395.4,397.5 L395.6,403.8 L395.9,409.6 L396.1,415 L396.4,420 L396.6,424.6 L396.9,428.9 L397.1,432.8 L397.4,436.4 L397.6,439.7 L397.9,442.7 L398.1,445.5 L398.4,448 L398.6,450.3 L398.9,452.4 L399.1,454.3 L399.4,456.1 L399.6,457.6 L399.9,458.9 L400.1,460.1 L400.4,461.1 L400.6,461.9 L400.9,462.6 L401.1,463.2 L401.4,463.6 L401.6,463.9 L401.9,464.1 L402.1,464.3 L402.4,464.3 L402.6,464.4 L402.9,464.4 L403.1,464.5 L403.4,464.7 L403.6,464.9 L403.8,465.2 L403.9,465.3 L404.1,465.8 L404.4,466.5 L404.6,467.2 L404.9,468.1 L405.1,468.9 L405.4,469.8 L405.6,470.7 L405.9,471.6 L406.1,472.4 L406.4,473.2 L406.6,473.9 L406.9,474.5 L407.1,475.1 L407.4,475.7 L407.6,476.1 L407.9,476.5 L408.1,476.9 L408.4,477.2 L408.6,477.4 L408.9,477.6 L409.1,477.8 L409.4,477.9 L409.6,478 L409.9,478.1 L410.1,478.1 L410.4,478.1 L410.6,478.1 L410.9,478.1 L411.1,478.1 L411.4,478 L411.6,478 L411.9,478 L412.1,478 L412.4,477.9 L412.6,477.8 L412.9,477.8 L413.1,477.6 L413.4,477.5 L413.6,477.4 L413.9,477.2 L414.1,477 L414.4,476.8 L414.6,476.5 L414.9,476.3 L415.1,475.9 L415.4,475.6 L415.6,475.2 L415.9,474.8 L416.1,474.3 L416.4,473.7 L416.6,473.2 L416.9,472.5 L417.1,471.8 L417.4,471 L417.6,470.2 L417.9,469.2 L418.1,468.2 L418.4,467.1 L418.6,465.8 L418.9,464.5 L419.1,463 L419.4,464.6 L419.6,466 L419.9,467.4 L420.1,468.6 L420.4,469.7 L420.6,470.8 L420.9,471.7 L421.1,472.6 L421.4,473.4 L421.6,474.2 L421.9,474.9 L422.1,475.5 L422.4,476.1 L422.6,476.6 L422.9,477.1 L423.1,477.6 L423.4,478 L423.6,478.4 L423.9,478.8 L424.1,479.1 L424.4,479.4 L424.6,479.7 L424.9,480 L425.1,480.2 L425.4,480.5 L425.6,480.7 L425.9,480.9 L426.1,481.1 L426.4,481.2 L426.6,481.4 L426.9,481.6 L427.1,481.7 L427.4,481.8 L427.6,482 L427.9,482.1 L428.1,482.2 L428.4,482.3 L428.6,482.4 L428.9,482.5 L429.1,482.5 L429.4,482.6 L429.6,482.7 L429.9,482.8 L430.1,482.8 L430.4,482.9 L430.6,482.9 L430.9,483 L431.1,483 L431.4,483 L431.6,483 L431.9,483 L432.1,483 L432.4,483 L432.6,482.9 L432.9,482.9 L433.1,482.9 L433.4,482.8 L433.6,482.8 L433.9,482.7 L434.1,482.7 L434.4,482.6 L434.6,482.6 L434.9,482.5 L435.1,482.4 L435.4,482.3 L435.6,482.2 L435.9,482 L436.1,481.9 L436.4,481.8 L436.6,481.6 L436.9,481.4 L437.1,481.2 L437.4,481 L437.6,480.7 L437.9,480.5 L438.1,480.2 L438.4,479.9 L438.6,479.5 L438.9,479.2 L439.1,478.8 L439.4,478.3 L439.6,477.8 L439.9,477.3 L440.1,476.7 L440.4,476.1 L440.6,475.4 L440.9,474.6 L441.1,473.8 L441.4,472.9 L441.6,471.9 L441.9,470.8 L442.1,469.7 L442.4,468.4 L442.6,467 L442.9,468.4 L443.1,469.7 L443.4,470.9 L443.6,471.9 L443.9,472.9 L444.1,473.8 L444.4,474.7 L444.6,475.4 L444.9,476.1 L445.1,476.7 L445.4,477.3 L445.6,477.9 L445.9,478.4 L446.1,478.8 L446.4,479.2 L446.6,479.6 L446.9,479.9 L447.1,480.3 L447.4,480.5 L447.6,480.8 L447.9,481.1 L448.1,481.3 L448.4,481.5 L448.6,481.7 L448.9,481.8 L449.1,482 L449.4,482.1 L449.6,482.2 L449.9,482.3 L450.1,482.4 L450.4,482.5 L450.6,482.6 L450.9,482.6 L451.1,482.7 L451.4,482.7 L451.6,482.7 L451.9,482.7 L452.1,482.8 L452.4,482.8 L452.6,482.8 L452.9,482.8 L453.1,482.8 L453.4,482.7 L453.6,482.7 L453.9,482.7 L454.1,482.7 L454.4,482.6 L454.6,482.6 L454.9,482.5 L455.1,482.4 L455.4,482.4 L455.6,482.3 L455.9,482.2 L456.1,482.1 L456.4,482 L456.6,481.9 L456.9,481.8 L457.1,481.6 L457.4,481.5 L457.6,481.3 L457.9,481.1 L458.1,480.9 L458.4,480.7 L458.6,480.4 L458.9,480.1 L459.1,479.8 L459.4,479.4 L459.6,479 L459.9,478.6 L460.1,478.1 L460.4,477.5 L460.6,476.9 L460.9,476.1 L461.1,475.3 L461.4,474.4 L461.6,473.5 L461.9,472.4 L462.1,471.2 L462.4,470 L462.6,468.7 L462.9,467.5 L463.1,466.4 L463.4,465.5 L463.6,464.9 L463.9,464.6 L463.9,464.6 L464.1,464.7 L464.4,465.2 L464.6,465.9 L464.9,466.9 L465.1,468.1 L465.4,469.3 L465.6,470.5 L465.9,471.6 L466.1,472.7 L466.4,473.7 L466.6,474.6 L466.9,475.4 L467.1,476.1 L467.4,476.7 L467.6,477.3 L467.9,477.7 L468.1,478.2 L468.4,478.5 L468.6,478.9 L468.9,479.1 L469.1,479.4 L469.4,479.6 L469.6,479.8 L469.9,479.9 L470.1,480 L470.4,480.1 L470.6,480.2 L470.9,480.3 L471.1,480.3 L471.4,480.4 L471.6,480.4 L471.9,480.4 L472.1,480.4 L472.4,480.3 L472.6,480.3 L472.9,480.2 L473.1,480.1 L473.4,480 L473.6,479.9 L473.9,479.8 L474.1,479.6 L474.4,479.5 L474.6,479.3 L474.9,479.1 L475.1,478.8 L475.4,478.6 L475.6,478.3 L475.9,478 L476.1,477.7 L476.4,477.3 L476.6,476.9 L476.9,476.5 L477.1,476 L477.4,475.5 L477.6,475 L477.9,474.4 L478.1,473.8 L478.4,473.1 L478.6,472.4 L478.9,471.6 L479.1,470.7 L479.4,469.8 L479.6,468.8 L479.9,467.7 L480.1,466.6 L480.4,465.3 L480.6,464 L480.9,462.5 L481.1,461 L481.4,459.3 L481.6,457.4 L481.9,455.5 L482.1,453.3 L482.4,451 L482.6,448.6 L482.9,445.9 L483.1,443 L483.4,439.9 L483.6,436.6 L483.9,433 L484.1,429.1 L484.4,424.9 L484.6,420.4 L484.9,415.5 L485.1,410.3 L485.4,404.6 L485.5,401 L485.6,403.4 L485.9,409.1 L486.1,414.5 L486.4,419.4 L486.6,423.9 L486.9,428.2 L487.1,432.1 L487.4,435.7 L487.6,439.1 L487.9,442.2 L488.1,445.1 L488.4,447.8 L488.6,450.3 L488.9,452.6 L489.1,454.7 L489.4,456.7 L489.6,458.5 L489.9,460.2 L490.1,461.8 L490.4,463.3 L490.6,464.6 L490.9,465.8 L491.1,467 L491.4,468 L491.6,469 L491.9,469.8 L492.1,470.6 L492.4,471.4 L492.6,472 L492.9,472.6 L493.1,473.1 L493.4,473.5 L493.6,473.9 L493.9,474.1 L494.1,474.4 L494.4,474.5 L494.6,474.6 L494.9,474.7 L495.1,474.7 L495.4,474.6 L495.6,474.5 L495.9,474.4 L496.1,474.3 L496.4,474.1 L496.6,474 L496.9,473.9 L497.1,473.9 L497.4,474 L497.5,474 L497.6,474.1 L497.9,474.4 L498.1,474.7 L498.4,475.1 L498.6,475.5 L498.9,476 L499.1,476.4 L499.4,476.9 L499.6,477.4 L499.9,477.9 L500.1,478.3 L500.4,478.7 L500.6,479 L500.9,479.4 L501.1,479.7 L501.4,479.9 L501.6,480.2 L501.9,480.4 L502.1,480.5 L502.4,480.7 L502.6,480.8 L502.9,480.9 L503.1,481 L503.4,481.1 L503.6,481.2 L503.9,481.2 L504.1,481.3 L504.4,481.3 L504.6,481.4 L504.9,481.4 L505.1,481.4 L505.4,481.4 L505.6,481.5 L505.9,481.5 L506.1,481.5 L506.4,481.5 L506.6,481.5 L506.9,481.6 L507.1,481.6 L507.4,481.6 L507.6,481.6 L507.9,481.6 L508.1,481.6 L508.4,481.6 L508.6,481.6 L508.9,481.6 L509.1,481.6 L509.4,481.6 L509.6,481.6 L509.9,481.6 L510.1,481.6 L510.4,481.6 L510.6,481.6 L510.9,481.6 L511.1,481.6 L511.4,481.6 L511.6,481.6 L511.9,481.6 L512.1,481.6 L512.4,481.6 L512.6,481.6 L512.9,481.6 L513.1,481.6 L513.4,481.6 L513.6,481.6 L513.9,481.6 L514.1,481.6 L514.4,481.6 L514.6,481.6 L514.9,481.6 L515.1,481.6 L515.4,481.6 L515.6,481.6 L515.9,481.6 L516.1,481.6 L516.4,481.6 L516.6,481.6 L516.9,481.5 L517.1,481.5 L517.4,481.5 L517.6,481.5 L517.9,481.5 L518.1,481.5 L518.4,481.5 L518.6,481.5 L518.9,481.5" fill="none" stroke="#c61f38" stroke-width="2.45" stroke-linejoin="round"/>
</g>
<path d="M31,520 L39.5,520.5 L44.2,521.2 L49.9,518.8 L54.5,519.5 L59.2,523.5 L62.2,514.2 L64.9,525.8 L67.2,524.6 L70.7,517.2 L76.5,514.7 L82.2,515.4 L86.8,518.8 L91.5,525.8 L94.9,520 L98.4,524.6 L102,519 L105.1,524.6 L110.7,513.9 L114.2,519 L117.8,522.6 L120.8,530.7 L122.6,540.8 L122.9,552.5 L123.6,526.6 L124.2,495.1 L125.2,528.7 L126.6,504.3 L127.4,530.7 L129,540.8 L131,528.7 L132.5,527.6 L135.1,524.1 L138.6,520.5 L142.7,518.5 L149.8,517 L153.1,516.5 L156.5,522.3 L160,520 L163.5,522.3 L170.4,513.1 L173.8,508.5 L176.2,516.5 L180.8,521.2 L184.2,525.8 L187.7,521.2 L193.5,520.7 L201.8,519.3 L206.3,521 L209.1,522.1 L211.4,517.6 L212.7,512.5 L214,524.3 L215.3,559.9 L216.4,534.5 L217.6,510.8 L219.3,515.3 L221,513.1 L223,510.6 L224.9,512.5 L226.6,513.6 L228.9,521 L231.1,518.7 L235.6,521 L240.1,522.1 L243.5,526.6 L245.4,528.1 L248.4,518.8 L250.5,514.9 L251.9,523.5 L253.9,513.1 L258.1,523.5 L260.4,524.2 L263.1,520 L267.7,517.7 L272.3,516.5 L273.9,520 L276.9,530.4 L280.4,515.4 L282.2,507.3 L283.8,529.2 L285,529.2 L286.8,498.1 L289.6,520 L293.1,521.2 L296.5,523.5 L300,520.7 L304.6,521.8 L310.4,521.8 L317.3,522.8 L321.9,523.5 L325.4,526.9 L328.8,524.6 L334.6,522.3 L339.2,520 L341.5,517.2 L342.7,532.7 L345,517.7 L346.8,514.9 L349.6,517.2 L354.2,515.8 L357.7,514.9 L360.7,513.1 L363.5,521.2 L366.9,523.5 L369.2,522.3 L372.9,521.2 L378.7,521.7 L385.9,521.7 L390.2,518.8 L393.1,507.3 L395.1,528.9 L397.4,511.6 L401.7,518.8 L407.5,521.7 L413.3,524 L419,528.4 L421.9,523.2 L427.7,521.7 L432,521.2 L437.8,523.2 L442.1,520.3 L445,521.7 L453.6,520.3 L459.4,518.3 L463.7,520.3 L469.5,520.3 L476.7,521.7 L481,517.4 L483.9,518.8 L485.4,531.8 L487.4,514.5 L489.7,513.1 L492.6,517.4 L496.9,520.3 L502.7,520.3 L508.4,521.7 L514.2,524 L518.5,526.1" fill="none" stroke="#3f4c8f" stroke-width="1.3" stroke-linejoin="round"/>
<path d="M66.7,556.5V567.5M76,556.5V567.5M102.7,556.5V567.5M129.3,556.5V567.5M133.7,556.5V567.5M135.5,556.5V567.5M140.6,556.5V567.5M140.8,556.5V567.5M156.4,556.5V567.5M156.8,556.5V567.5M160.8,556.5V567.5M161,556.5V567.5M162.9,556.5V567.5M165.7,556.5V567.5M181.3,556.5V567.5M183.9,556.5V567.5M185,556.5V567.5M191,556.5V567.5M209.5,556.5V567.5M211.9,556.5V567.5M224.2,556.5V567.5M225.5,556.5V567.5M228.6,556.5V567.5M229.3,556.5V567.5M233.5,556.5V567.5M244.2,556.5V567.5M245,556.5V567.5M247.2,556.5V567.5M249.4,556.5V567.5M259.2,556.5V567.5M263.5,556.5V567.5M267,556.5V567.5M267.5,556.5V567.5M269,556.5V567.5M271.4,556.5V567.5M277,556.5V567.5M282.3,556.5V567.5M284.4,556.5V567.5M286,556.5V567.5M288,556.5V567.5M297.9,556.5V567.5M298.4,556.5V567.5M303.5,556.5V567.5M311,556.5V567.5M313.1,556.5V567.5M314,556.5V567.5M315.3,556.5V567.5M317.1,556.5V567.5M317.7,556.5V567.5M325.9,556.5V567.5M326.7,556.5V567.5M328.9,556.5V567.5M330.8,556.5V567.5M331.4,556.5V567.5M332.6,556.5V567.5M333.9,556.5V567.5M337.1,556.5V567.5M345,556.5V567.5M347.9,556.5V567.5M351.5,556.5V567.5M360.4,556.5V567.5M360.4,556.5V567.5M364,556.5V567.5M364,556.5V567.5M364.8,556.5V567.5M365.8,556.5V567.5M366.1,556.5V567.5M366.7,556.5V567.5M369.4,556.5V567.5M370.5,556.5V567.5M373.2,556.5V567.5M374.3,556.5V567.5M374.7,556.5V567.5M377.4,556.5V567.5M377.4,556.5V567.5M378.4,556.5V567.5M379.9,556.5V567.5M380,556.5V567.5M385.3,556.5V567.5M386.8,556.5V567.5M387.8,556.5V567.5M391,556.5V567.5M391.9,556.5V567.5M397,556.5V567.5M397,556.5V567.5M398.7,556.5V567.5M401.4,556.5V567.5M402.7,556.5V567.5M403.9,556.5V567.5M404.6,556.5V567.5M406.4,556.5V567.5M407.2,556.5V567.5M409.7,556.5V567.5M412.4,556.5V567.5M413.5,556.5V567.5M415.1,556.5V567.5M415.6,556.5V567.5M415.6,556.5V567.5M417.5,556.5V567.5M418,556.5V567.5M419.4,556.5V567.5M420,556.5V567.5M425.2,556.5V567.5M427.3,556.5V567.5M428.2,556.5V567.5M429.6,556.5V567.5M435.2,556.5V567.5M435.8,556.5V567.5M436.8,556.5V567.5M439.2,556.5V567.5M440.5,556.5V567.5M440.9,556.5V567.5M443.6,556.5V567.5M444.2,556.5V567.5M445.7,556.5V567.5M448.2,556.5V567.5M455.1,556.5V567.5M456.7,556.5V567.5M462.2,556.5V567.5M463.2,556.5V567.5M464.4,556.5V567.5M467.7,556.5V567.5M469.3,556.5V567.5M469.8,556.5V567.5M470.6,556.5V567.5M473.7,556.5V567.5M473.8,556.5V567.5M475.4,556.5V567.5M475.9,556.5V567.5M476.4,556.5V567.5M478.1,556.5V567.5M478.1,556.5V567.5M479.3,556.5V567.5M479.4,556.5V567.5M479.5,556.5V567.5M480.8,556.5V567.5M480.9,556.5V567.5M482.5,556.5V567.5M483.2,556.5V567.5M485.1,556.5V567.5M486.8,556.5V567.5M487.4,556.5V567.5M488.4,556.5V567.5M488.6,556.5V567.5M488.6,556.5V567.5M490.2,556.5V567.5M493.7,556.5V567.5M495.1,556.5V567.5M496.7,556.5V567.5M497.1,556.5V567.5M500.9,556.5V567.5M501.3,556.5V567.5M509.4,556.5V567.5M511,556.5V567.5M511.5,556.5V567.5M512.8,556.5V567.5M513.1,556.5V567.5M513.2,556.5V567.5M514,556.5V567.5M516.1,556.5V567.5M517.3,556.5V567.5M517.5,556.5V567.5M518.1,556.5V567.5" stroke="#c0207f" stroke-width="1.5"/>
<path d="M66.7,579.5V590.5M69.8,579.5V590.5M94.2,579.5V590.5M113.7,579.5V590.5M124.9,579.5V590.5M134.9,579.5V590.5M143.5,579.5V590.5M148.2,579.5V590.5M152.7,579.5V590.5M154.8,579.5V590.5M159.5,579.5V590.5M167.3,579.5V590.5M171.5,579.5V590.5M172.5,579.5V590.5M177.2,579.5V590.5M178.2,579.5V590.5M186.6,579.5V590.5M199.2,579.5V590.5M204.3,579.5V590.5M210.8,579.5V590.5M222,579.5V590.5M228.3,579.5V590.5M229.7,579.5V590.5M231.8,579.5V590.5M236.4,579.5V590.5M252.8,579.5V590.5M254.2,579.5V590.5M254.7,579.5V590.5M257.9,579.5V590.5M259,579.5V590.5M261.5,579.5V590.5M265.5,579.5V590.5M267.1,579.5V590.5M268.8,579.5V590.5M274.4,579.5V590.5M277.7,579.5V590.5M277.9,579.5V590.5M279.8,579.5V590.5M280.8,579.5V590.5M299.6,579.5V590.5M300,579.5V590.5M305.1,579.5V590.5M308.7,579.5V590.5M309.7,579.5V590.5M310.2,579.5V590.5M312.1,579.5V590.5M313,579.5V590.5M314.9,579.5V590.5M315.1,579.5V590.5M316.7,579.5V590.5M320.1,579.5V590.5M323.2,579.5V590.5M324.9,579.5V590.5M331.6,579.5V590.5M335.2,579.5V590.5M342.6,579.5V590.5M342.6,579.5V590.5M350.9,579.5V590.5M351.8,579.5V590.5M353.3,579.5V590.5M355.3,579.5V590.5M356.5,579.5V590.5M357.3,579.5V590.5M358.4,579.5V590.5M361.2,579.5V590.5M362.8,579.5V590.5M362.9,579.5V590.5M368.4,579.5V590.5M368.5,579.5V590.5M374.1,579.5V590.5M375.7,579.5V590.5M376,579.5V590.5M376.8,579.5V590.5M380,579.5V590.5M380.2,579.5V590.5M382.6,579.5V590.5M386.8,579.5V590.5M389.5,579.5V590.5M389.7,579.5V590.5M390.1,579.5V590.5M391,579.5V590.5M392.7,579.5V590.5M394.2,579.5V590.5M398.9,579.5V590.5M400.6,579.5V590.5M401.9,579.5V590.5M402.1,579.5V590.5M403,579.5V590.5M405.3,579.5V590.5M405.7,579.5V590.5M406.3,579.5V590.5M406.5,579.5V590.5M408.4,579.5V590.5M411.1,579.5V590.5M412.5,579.5V590.5M412.8,579.5V590.5M413.7,579.5V590.5M414.1,579.5V590.5M414.6,579.5V590.5M418.7,579.5V590.5M420.7,579.5V590.5M421.3,579.5V590.5M423.7,579.5V590.5M425.9,579.5V590.5M428.3,579.5V590.5M437,579.5V590.5M438.9,579.5V590.5M441.1,579.5V590.5M443.7,579.5V590.5M445.6,579.5V590.5M448.4,579.5V590.5M450.5,579.5V590.5M454.8,579.5V590.5M455.2,579.5V590.5M458,579.5V590.5M461.2,579.5V590.5M461.4,579.5V590.5M461.6,579.5V590.5M461.6,579.5V590.5M462.6,579.5V590.5M463.8,579.5V590.5M464.3,579.5V590.5M465.2,579.5V590.5M467.5,579.5V590.5M467.5,579.5V590.5M468.8,579.5V590.5M469,579.5V590.5M469.8,579.5V590.5M471.1,579.5V590.5M472.3,579.5V590.5M473.4,579.5V590.5M478.1,579.5V590.5M480.3,579.5V590.5M480.9,579.5V590.5M483.1,579.5V590.5M483.6,579.5V590.5M484.6,579.5V590.5M486.8,579.5V590.5M488.3,579.5V590.5M490.9,579.5V590.5M491,579.5V590.5M491.6,579.5V590.5M492.9,579.5V590.5M493.1,579.5V590.5M494.8,579.5V590.5M495.2,579.5V590.5M498.7,579.5V590.5M499.7,579.5V590.5M501.4,579.5V590.5M502.2,579.5V590.5M503.2,579.5V590.5M503.5,579.5V590.5M504.1,579.5V590.5M504.5,579.5V590.5M506.6,579.5V590.5M507.7,579.5V590.5M509.8,579.5V590.5M511.1,579.5V590.5M514.2,579.5V590.5M516.7,579.5V590.5M516.7,579.5V590.5M517.1,579.5V590.5" stroke="#2f9ed2" stroke-width="1.5"/>
<path d="M61.6,602.5V613.5M125.4,602.5V613.5M173.9,602.5V613.5M215.2,602.5V613.5M251.5,602.5V613.5M284.8,602.5V613.5M343.2,602.5V613.5M369.7,602.5V613.5M395.3,602.5V613.5M419.1,602.5V613.5M442.4,602.5V613.5M464.2,602.5V613.5M485.7,602.5V613.5" stroke="#7a8c58" stroke-width="1.4"/>
<path d="M55,0V11M55,647V636M79.5,0V5.5M79.5,647V641.5M103.9,0V11M103.9,647V636M128.3,0V5.5M128.3,647V641.5M152.8,0V11M152.8,647V636M177.2,0V5.5M177.2,647V641.5M201.6,0V11M201.6,647V636M226,0V5.5M226,647V641.5M250.5,0V11M250.5,647V636M274.9,0V5.5M274.9,647V641.5M299.3,0V11M299.3,647V636M323.8,0V5.5M323.8,647V641.5M348.2,0V11M348.2,647V636M372.6,0V5.5M372.6,647V641.5M397.1,0V11M397.1,647V636M421.5,0V5.5M421.5,647V641.5M445.9,0V11M445.9,647V636M470.3,0V5.5M470.3,647V641.5M494.8,0V11M494.8,647V636" stroke="#111" stroke-width="1.5"/>
<path d="M29.9,0.85H520M30.6,0V647.9M519.1,0V647.9M29.9,647.05H520" fill="none" stroke="#111" stroke-width="1.6"/>
<text x="176.1" y="51.3">Before annealing</text>
<text x="183.8" y="270.1">After annealing</text>
<g text-anchor="end" transform="translate(0.8,0.6)">
<text x="474" y="253">Data</text>
<text x="474" y="276.5">Rietveld fit</text>
<text x="474" y="300">Residual</text>
<text x="474" y="323.7">B2 KBr</text>
<text x="474.5" y="348.3"><tspan font-style="italic">P</tspan>2<tspan font-size="12" dy="6.5">1</tspan><tspan dy="-6.5" font-style="italic">/c</tspan> ZrO<tspan font-size="12" dy="6.5">2</tspan></text>
<text x="474.5" y="371.7"><tspan font-style="italic">Pbca</tspan> ZrO<tspan font-size="12" dy="6.5">2</tspan></text>
</g>
<circle cx="490.2" cy="246.3" r="3.4" fill="none" stroke="#3a3a3a" stroke-width="1.1"/>
<path d="M484,270H496.3" stroke="#c61f38" stroke-width="2.2"/>
<path d="M484,294H496" stroke="#3f4c8f" stroke-width="1.4"/>
<path d="M490.3,312.5V323" stroke="#7a8c58" stroke-width="1.4"/>
<path d="M490.3,336.5V347" stroke="#2f9ed2" stroke-width="1.5"/>
<path d="M490.3,360.5V371" stroke="#c0207f" stroke-width="1.5"/>
<text x="55" y="676.5" text-anchor="middle">6</text><text x="103.9" y="676.5" text-anchor="middle">8</text><text x="152.8" y="676.5" text-anchor="middle">10</text><text x="201.6" y="676.5" text-anchor="middle">12</text><text x="250.5" y="676.5" text-anchor="middle">14</text><text x="299.3" y="676.5" text-anchor="middle">16</text><text x="348.2" y="676.5" text-anchor="middle">18</text><text x="397.1" y="676.5" text-anchor="middle">20</text><text x="445.9" y="676.5" text-anchor="middle">22</text><text x="494.8" y="676.5" text-anchor="middle">24</text>
<text x="218.6" y="704.5" style="font-size:19.85px">2θ (degrees)</text>
<text transform="translate(15,397.8) rotate(-90)">Intensity (arb. u.)</text>
</svg>
</body></html>
